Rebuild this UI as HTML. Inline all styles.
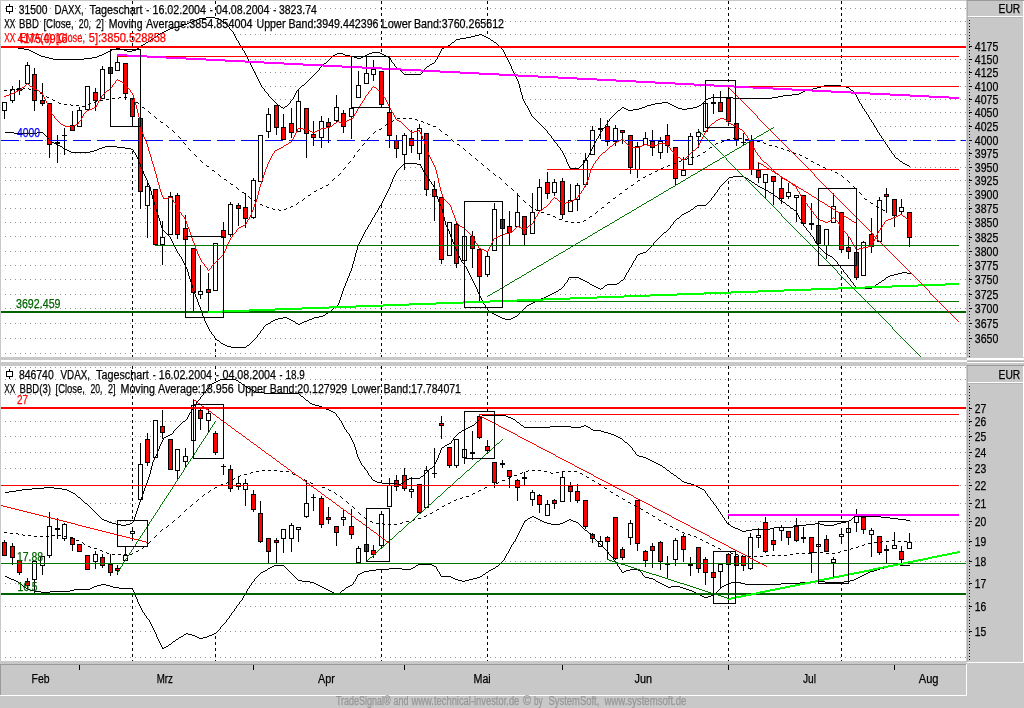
<!DOCTYPE html>
<html><head><meta charset="utf-8"><title>DAXX / VDAX Tageschart</title>
<style>html,body{margin:0;padding:0;background:#c8c8c8;overflow:hidden}svg{display:block}text{font-family:'Liberation Sans', Arial, sans-serif;font-size:12.5px;stroke-width:0.25px}</style>
</head><body>
<svg width="1024" height="708" viewBox="0 0 1024 708">
<rect width="1024" height="708" fill="#c8c8c8"/>
<g shape-rendering="crispEdges">
<rect x="0" y="0" width="1024" height="1" fill="#c8c8c8"/>
<rect x="1" y="1" width="966" height="356" fill="#fff"/>
<line x1="5" y1="8.5" x2="966" y2="8.5" stroke="#909090" stroke-width="1" stroke-dasharray="1 4"/>
<line x1="5" y1="21.5" x2="966" y2="21.5" stroke="#909090" stroke-width="1" stroke-dasharray="1 4"/>
<line x1="5" y1="34.5" x2="966" y2="34.5" stroke="#909090" stroke-width="1" stroke-dasharray="1 4"/>
<line x1="5" y1="46.5" x2="966" y2="46.5" stroke="#909090" stroke-width="1" stroke-dasharray="1 4"/>
<line x1="5" y1="59.5" x2="966" y2="59.5" stroke="#909090" stroke-width="1" stroke-dasharray="1 4"/>
<line x1="5" y1="72.5" x2="966" y2="72.5" stroke="#909090" stroke-width="1" stroke-dasharray="1 4"/>
<line x1="5" y1="86.5" x2="966" y2="86.5" stroke="#909090" stroke-width="1" stroke-dasharray="1 4"/>
<line x1="5" y1="99.5" x2="966" y2="99.5" stroke="#909090" stroke-width="1" stroke-dasharray="1 4"/>
<line x1="5" y1="112.5" x2="966" y2="112.5" stroke="#909090" stroke-width="1" stroke-dasharray="1 4"/>
<line x1="5" y1="126.5" x2="966" y2="126.5" stroke="#909090" stroke-width="1" stroke-dasharray="1 4"/>
<line x1="5" y1="140.5" x2="966" y2="140.5" stroke="#909090" stroke-width="1" stroke-dasharray="1 4"/>
<line x1="5" y1="153.5" x2="966" y2="153.5" stroke="#909090" stroke-width="1" stroke-dasharray="1 4"/>
<line x1="5" y1="167.5" x2="966" y2="167.5" stroke="#909090" stroke-width="1" stroke-dasharray="1 4"/>
<line x1="5" y1="180.5" x2="966" y2="180.5" stroke="#909090" stroke-width="1" stroke-dasharray="1 4"/>
<line x1="5" y1="194.5" x2="966" y2="194.5" stroke="#909090" stroke-width="1" stroke-dasharray="1 4"/>
<line x1="5" y1="208.5" x2="966" y2="208.5" stroke="#909090" stroke-width="1" stroke-dasharray="1 4"/>
<line x1="5" y1="222.5" x2="966" y2="222.5" stroke="#909090" stroke-width="1" stroke-dasharray="1 4"/>
<line x1="5" y1="236.5" x2="966" y2="236.5" stroke="#909090" stroke-width="1" stroke-dasharray="1 4"/>
<line x1="5" y1="251.5" x2="966" y2="251.5" stroke="#909090" stroke-width="1" stroke-dasharray="1 4"/>
<line x1="5" y1="265.5" x2="966" y2="265.5" stroke="#909090" stroke-width="1" stroke-dasharray="1 4"/>
<line x1="5" y1="279.5" x2="966" y2="279.5" stroke="#909090" stroke-width="1" stroke-dasharray="1 4"/>
<line x1="5" y1="294.5" x2="966" y2="294.5" stroke="#909090" stroke-width="1" stroke-dasharray="1 4"/>
<line x1="5" y1="308.5" x2="966" y2="308.5" stroke="#909090" stroke-width="1" stroke-dasharray="1 4"/>
<line x1="5" y1="323.5" x2="966" y2="323.5" stroke="#909090" stroke-width="1" stroke-dasharray="1 4"/>
<line x1="5" y1="338.5" x2="966" y2="338.5" stroke="#909090" stroke-width="1" stroke-dasharray="1 4"/>
<line x1="5" y1="353.5" x2="966" y2="353.5" stroke="#909090" stroke-width="1" stroke-dasharray="1 4"/>
<line x1="132.5" y1="1" x2="132.5" y2="357" stroke="#000" stroke-width="1" stroke-dasharray="3 3"/>
<line x1="215.5" y1="1" x2="215.5" y2="357" stroke="#000" stroke-width="1" stroke-dasharray="3 3"/>
<line x1="381.5" y1="1" x2="381.5" y2="357" stroke="#000" stroke-width="1" stroke-dasharray="3 3"/>
<line x1="487.5" y1="1" x2="487.5" y2="357" stroke="#000" stroke-width="1" stroke-dasharray="3 3"/>
<line x1="728.5" y1="1" x2="728.5" y2="357" stroke="#000" stroke-width="1" stroke-dasharray="3 3"/>
<line x1="841.5" y1="1" x2="841.5" y2="357" stroke="#000" stroke-width="1" stroke-dasharray="3 3"/>
<polygon points="1.5,47.5 14.0,47.5 27.0,49.5 42.0,56.0 55.0,59.0 80.0,59.0 95.0,57.0 105.0,53.0 112.0,49.0 118.0,48.0 128.0,51.0 135.0,50.0 140.0,46.0 150.0,40.0 160.0,33.0 170.0,28.0 180.0,26.0 190.0,22.0 200.0,18.5 210.0,17.5 218.0,18.5 226.0,24.0 232.0,31.0 237.4,40.0 243.0,50.0 250.0,63.0 256.0,75.0 262.0,87.0 270.0,97.0 277.0,104.0 283.0,108.5 288.0,104.0 293.0,98.0 297.0,90.0 300.0,87.0 306.0,82.0 311.0,77.0 316.0,72.0 322.0,65.5 328.0,60.0 333.0,55.0 337.0,53.0 341.0,53.0 346.0,55.0 352.0,56.0 358.0,58.5 362.0,57.0 367.0,54.0 373.0,52.5 378.0,52.5 384.0,55.0 389.0,57.0 392.0,62.0 396.0,67.0 400.0,70.5 404.0,74.0 420.0,74.0 425.0,68.0 430.0,64.5 434.0,62.5 438.0,56.0 442.0,48.0 450.0,44.0 456.0,39.0 468.5,37.0 480.0,34.5 487.0,37.0 496.0,43.8 503.0,50.0 507.0,58.0 511.5,67.0 518.0,82.0 523.0,100.0 528.0,108.0 532.0,116.0 538.0,122.0 544.0,128.5 550.0,135.5 556.0,143.5 562.0,151.0 566.0,160.0 570.0,168.5 578.0,168.0 583.0,163.5 587.0,157.0 591.0,150.0 597.0,138.0 601.0,131.0 606.0,124.0 610.0,118.0 616.0,112.0 622.0,107.0 629.0,110.0 636.0,109.5 640.0,108.5 648.0,105.0 656.0,103.5 666.0,102.5 671.0,104.5 676.0,107.5 683.0,109.0 690.0,108.0 698.0,106.5 702.0,103.0 705.0,100.0 708.0,98.0 713.0,97.0 725.0,97.5 740.0,98.5 750.0,98.5 755.0,98.0 768.0,98.0 775.0,97.0 785.0,95.0 798.0,94.0 805.0,90.5 815.0,88.5 825.0,85.0 838.0,85.0 848.0,87.5 855.0,93.0 858.0,100.0 865.0,111.0 872.0,122.5 878.0,132.0 884.0,141.5 890.0,150.0 895.5,157.5 903.0,163.0 909.0,166.5 910.0,273.0 903.0,272.0 895.5,274.0 888.0,276.0 881.0,281.0 875.0,285.0 871.0,288.6 857.0,288.6 855.0,286.0 851.0,281.0 846.0,274.0 841.0,268.0 836.0,261.0 832.0,257.0 826.0,254.0 820.0,248.5 816.0,243.0 813.0,237.0 808.0,231.0 804.0,226.0 800.0,219.0 796.0,211.5 790.0,207.0 785.0,203.5 779.0,199.0 773.0,194.5 768.0,191.0 765.0,189.0 760.0,187.0 754.0,183.0 748.0,179.0 743.0,176.5 736.0,176.5 729.0,177.5 725.0,181.5 720.0,186.0 716.0,192.0 710.0,200.0 705.0,205.5 697.0,205.5 690.0,210.0 681.0,215.0 675.0,220.0 668.0,229.0 662.0,234.0 656.0,240.0 650.0,247.5 645.0,252.5 640.0,253.5 637.0,255.0 630.0,267.0 623.0,279.0 616.0,284.0 607.0,284.5 600.0,289.5 578.0,277.5 569.0,277.5 566.0,282.0 562.0,287.5 558.0,290.0 553.0,293.0 542.0,298.0 533.0,302.5 526.0,306.5 522.0,310.0 517.0,315.0 512.0,318.0 509.0,319.5 506.0,319.0 500.0,317.0 494.0,314.0 488.0,310.0 484.0,304.0 480.0,297.0 475.0,285.0 470.0,275.0 466.0,267.0 462.0,262.0 459.0,257.0 452.0,240.0 447.0,227.0 445.0,223.0 441.0,206.0 438.0,200.0 434.0,187.0 430.0,181.0 424.0,172.0 420.0,164.5 412.0,163.5 404.0,163.0 400.0,167.0 396.0,171.5 392.0,180.5 388.0,190.0 383.5,200.8 376.0,212.0 366.0,229.5 358.5,244.5 351.0,269.5 343.5,289.5 338.5,304.5 331.0,310.8 322.0,316.5 315.0,317.0 305.0,321.0 298.0,324.5 292.0,320.0 285.0,317.5 275.0,319.0 265.0,325.0 256.0,337.5 250.0,343.0 245.0,347.0 232.0,347.0 225.0,345.5 220.0,342.0 215.0,338.0 210.0,331.0 205.0,322.0 200.0,308.0 195.0,295.0 190.0,280.0 187.0,270.0 184.0,263.0 180.0,256.0 175.0,248.0 170.0,237.5 162.0,229.0 158.0,216.0 153.0,200.0 149.0,185.0 147.0,181.0 143.0,172.0 138.0,160.0 135.0,153.0 132.0,149.0 128.0,148.5 120.0,147.0 113.0,146.5 106.0,146.5 100.0,148.0 95.0,150.0 88.0,152.0 72.0,152.0 67.0,150.0 62.0,147.0 57.0,144.5 52.0,142.5 47.0,137.0 42.0,132.5 30.0,133.0 17.0,133.5 9.0,132.5 5.0,132.2 1.5,132.2" fill="#fff" stroke="#fff" stroke-width="1"/>
<rect x="4" y="111" width="1" height="8" fill="#000"/>
<rect x="2" y="102" width="5" height="9" fill="#000"/>
<rect x="3" y="103" width="3" height="7" fill="#fff"/>
<rect x="12" y="86" width="1" height="3" fill="#000"/>
<rect x="12" y="101" width="1" height="2" fill="#000"/>
<rect x="10" y="89" width="5" height="12" fill="#000"/>
<rect x="11" y="90" width="3" height="10" fill="#fff"/>
<rect x="19" y="80" width="1" height="8" fill="#000"/>
<rect x="19" y="91" width="1" height="4" fill="#000"/>
<rect x="17" y="88" width="5" height="3" fill="#000"/>
<rect x="27" y="62" width="1" height="3" fill="#000"/>
<rect x="25" y="65" width="5" height="19" fill="#000"/>
<rect x="26" y="66" width="3" height="17" fill="#fff"/>
<rect x="34" y="68" width="1" height="6" fill="#000"/>
<rect x="34" y="101" width="1" height="10" fill="#000"/>
<rect x="32" y="74" width="5" height="27" fill="#000"/>
<rect x="33" y="75" width="3" height="25" fill="#ff0000"/>
<rect x="42" y="83" width="1" height="17" fill="#000"/>
<rect x="42" y="104" width="1" height="2" fill="#000"/>
<rect x="40" y="100" width="5" height="4" fill="#000"/>
<rect x="41" y="101" width="3" height="2" fill="#ff0000"/>
<rect x="49" y="145" width="1" height="13" fill="#000"/>
<rect x="47" y="103" width="5" height="42" fill="#000"/>
<rect x="48" y="104" width="3" height="40" fill="#ff0000"/>
<rect x="57" y="135" width="1" height="7" fill="#000"/>
<rect x="57" y="144" width="1" height="19" fill="#000"/>
<rect x="55" y="142" width="5" height="2" fill="#000"/>
<rect x="64" y="128" width="1" height="7" fill="#000"/>
<rect x="64" y="136" width="1" height="19" fill="#000"/>
<rect x="62" y="135" width="5" height="1" fill="#000"/>
<rect x="72" y="111" width="1" height="14" fill="#000"/>
<rect x="70" y="125" width="5" height="6" fill="#000"/>
<rect x="71" y="126" width="3" height="4" fill="#ff0000"/>
<rect x="79" y="107" width="1" height="3" fill="#000"/>
<rect x="77" y="110" width="5" height="17" fill="#000"/>
<rect x="78" y="111" width="3" height="15" fill="#fff"/>
<rect x="85" y="86" width="5" height="24" fill="#000"/>
<rect x="86" y="87" width="3" height="22" fill="#fff"/>
<rect x="95" y="88" width="1" height="4" fill="#000"/>
<rect x="95" y="101" width="1" height="10" fill="#000"/>
<rect x="93" y="92" width="5" height="9" fill="#000"/>
<rect x="94" y="93" width="3" height="7" fill="#ff0000"/>
<rect x="102" y="66" width="1" height="3" fill="#000"/>
<rect x="100" y="69" width="5" height="30" fill="#000"/>
<rect x="101" y="70" width="3" height="28" fill="#fff"/>
<rect x="108" y="67" width="5" height="7" fill="#000"/>
<rect x="109" y="68" width="3" height="5" fill="#ff0000"/>
<rect x="117" y="57" width="1" height="5" fill="#000"/>
<rect x="115" y="62" width="5" height="9" fill="#000"/>
<rect x="116" y="63" width="3" height="7" fill="#fff"/>
<rect x="125" y="94" width="1" height="6" fill="#000"/>
<rect x="123" y="63" width="5" height="31" fill="#000"/>
<rect x="124" y="64" width="3" height="29" fill="#ff0000"/>
<rect x="132" y="117" width="1" height="10" fill="#000"/>
<rect x="130" y="98" width="5" height="19" fill="#000"/>
<rect x="131" y="99" width="3" height="17" fill="#ff0000"/>
<rect x="140" y="192" width="1" height="17" fill="#000"/>
<rect x="138" y="118" width="5" height="74" fill="#000"/>
<rect x="139" y="119" width="3" height="72" fill="#ff0000"/>
<rect x="147" y="183" width="1" height="3" fill="#000"/>
<rect x="147" y="206" width="1" height="32" fill="#000"/>
<rect x="145" y="186" width="5" height="20" fill="#000"/>
<rect x="146" y="187" width="3" height="18" fill="#fff"/>
<rect x="153" y="189" width="5" height="56" fill="#000"/>
<rect x="154" y="190" width="3" height="54" fill="#ff0000"/>
<rect x="162" y="221" width="1" height="16" fill="#000"/>
<rect x="162" y="245" width="1" height="20" fill="#000"/>
<rect x="160" y="237" width="5" height="8" fill="#000"/>
<rect x="161" y="238" width="3" height="6" fill="#fff"/>
<rect x="170" y="192" width="1" height="4" fill="#000"/>
<rect x="168" y="196" width="5" height="39" fill="#000"/>
<rect x="169" y="197" width="3" height="37" fill="#fff"/>
<rect x="177" y="193" width="1" height="2" fill="#000"/>
<rect x="177" y="235" width="1" height="4" fill="#000"/>
<rect x="175" y="195" width="5" height="40" fill="#000"/>
<rect x="176" y="196" width="3" height="38" fill="#ff0000"/>
<rect x="185" y="215" width="1" height="13" fill="#000"/>
<rect x="183" y="228" width="5" height="12" fill="#000"/>
<rect x="184" y="229" width="3" height="10" fill="#ff0000"/>
<rect x="193" y="293" width="1" height="18" fill="#000"/>
<rect x="191" y="248" width="5" height="45" fill="#000"/>
<rect x="192" y="249" width="3" height="43" fill="#ff0000"/>
<rect x="200" y="265" width="1" height="26" fill="#000"/>
<rect x="200" y="295" width="1" height="4" fill="#000"/>
<rect x="198" y="291" width="5" height="4" fill="#000"/>
<rect x="199" y="292" width="3" height="2" fill="#fff"/>
<rect x="208" y="273" width="1" height="16" fill="#000"/>
<rect x="208" y="293" width="1" height="18" fill="#000"/>
<rect x="206" y="289" width="5" height="4" fill="#000"/>
<rect x="207" y="290" width="3" height="2" fill="#ff0000"/>
<rect x="213" y="243" width="5" height="48" fill="#000"/>
<rect x="214" y="244" width="3" height="46" fill="#fff"/>
<rect x="223" y="222" width="1" height="8" fill="#000"/>
<rect x="221" y="230" width="5" height="8" fill="#000"/>
<rect x="222" y="231" width="3" height="6" fill="#ff0000"/>
<rect x="230" y="202" width="1" height="2" fill="#000"/>
<rect x="230" y="235" width="1" height="2" fill="#000"/>
<rect x="228" y="204" width="5" height="31" fill="#000"/>
<rect x="229" y="205" width="3" height="29" fill="#fff"/>
<rect x="238" y="203" width="1" height="2" fill="#000"/>
<rect x="238" y="209" width="1" height="17" fill="#000"/>
<rect x="236" y="205" width="5" height="4" fill="#000"/>
<rect x="237" y="206" width="3" height="2" fill="#ff0000"/>
<rect x="245" y="193" width="1" height="14" fill="#000"/>
<rect x="245" y="219" width="1" height="9" fill="#000"/>
<rect x="243" y="207" width="5" height="12" fill="#000"/>
<rect x="244" y="208" width="3" height="10" fill="#ff0000"/>
<rect x="253" y="178" width="1" height="2" fill="#000"/>
<rect x="253" y="218" width="1" height="1" fill="#000"/>
<rect x="251" y="180" width="5" height="38" fill="#000"/>
<rect x="252" y="181" width="3" height="36" fill="#fff"/>
<rect x="258" y="135" width="5" height="47" fill="#000"/>
<rect x="259" y="136" width="3" height="45" fill="#fff"/>
<rect x="268" y="108" width="1" height="6" fill="#000"/>
<rect x="268" y="132" width="1" height="6" fill="#000"/>
<rect x="266" y="114" width="5" height="18" fill="#000"/>
<rect x="267" y="115" width="3" height="16" fill="#fff"/>
<rect x="276" y="128" width="1" height="7" fill="#000"/>
<rect x="274" y="105" width="5" height="23" fill="#000"/>
<rect x="275" y="106" width="3" height="21" fill="#ff0000"/>
<rect x="283" y="114" width="1" height="13" fill="#000"/>
<rect x="281" y="127" width="5" height="13" fill="#000"/>
<rect x="282" y="128" width="3" height="11" fill="#ff0000"/>
<rect x="291" y="108" width="1" height="15" fill="#000"/>
<rect x="291" y="133" width="1" height="5" fill="#000"/>
<rect x="289" y="123" width="5" height="10" fill="#000"/>
<rect x="290" y="124" width="3" height="8" fill="#ff0000"/>
<rect x="298" y="89" width="1" height="12" fill="#000"/>
<rect x="296" y="101" width="5" height="31" fill="#000"/>
<rect x="297" y="102" width="3" height="29" fill="#fff"/>
<rect x="306" y="134" width="1" height="24" fill="#000"/>
<rect x="304" y="108" width="5" height="26" fill="#000"/>
<rect x="305" y="109" width="3" height="24" fill="#ff0000"/>
<rect x="313" y="121" width="1" height="13" fill="#000"/>
<rect x="313" y="138" width="1" height="8" fill="#000"/>
<rect x="311" y="134" width="5" height="4" fill="#000"/>
<rect x="312" y="135" width="3" height="2" fill="#ff0000"/>
<rect x="321" y="116" width="1" height="5" fill="#000"/>
<rect x="321" y="138" width="1" height="10" fill="#000"/>
<rect x="319" y="121" width="5" height="17" fill="#000"/>
<rect x="320" y="122" width="3" height="15" fill="#fff"/>
<rect x="328" y="118" width="1" height="4" fill="#000"/>
<rect x="328" y="127" width="1" height="16" fill="#000"/>
<rect x="326" y="122" width="5" height="5" fill="#000"/>
<rect x="327" y="123" width="3" height="3" fill="#ff0000"/>
<rect x="336" y="95" width="1" height="12" fill="#000"/>
<rect x="336" y="121" width="1" height="1" fill="#000"/>
<rect x="334" y="107" width="5" height="14" fill="#000"/>
<rect x="335" y="108" width="3" height="12" fill="#fff"/>
<rect x="343" y="110" width="1" height="3" fill="#000"/>
<rect x="343" y="127" width="1" height="6" fill="#000"/>
<rect x="341" y="113" width="5" height="14" fill="#000"/>
<rect x="342" y="114" width="3" height="12" fill="#ff0000"/>
<rect x="351" y="117" width="1" height="22" fill="#000"/>
<rect x="349" y="108" width="5" height="9" fill="#000"/>
<rect x="350" y="109" width="3" height="7" fill="#fff"/>
<rect x="358" y="71" width="1" height="14" fill="#000"/>
<rect x="356" y="85" width="5" height="13" fill="#000"/>
<rect x="357" y="86" width="3" height="11" fill="#fff"/>
<rect x="366" y="57" width="1" height="16" fill="#000"/>
<rect x="364" y="73" width="5" height="11" fill="#000"/>
<rect x="365" y="74" width="3" height="9" fill="#fff"/>
<rect x="373" y="60" width="1" height="9" fill="#000"/>
<rect x="373" y="75" width="1" height="6" fill="#000"/>
<rect x="371" y="69" width="5" height="6" fill="#000"/>
<rect x="372" y="70" width="3" height="4" fill="#fff"/>
<rect x="381" y="105" width="1" height="3" fill="#000"/>
<rect x="379" y="71" width="5" height="34" fill="#000"/>
<rect x="380" y="72" width="3" height="32" fill="#ff0000"/>
<rect x="389" y="108" width="1" height="4" fill="#000"/>
<rect x="389" y="136" width="1" height="12" fill="#000"/>
<rect x="387" y="112" width="5" height="24" fill="#000"/>
<rect x="388" y="113" width="3" height="22" fill="#ff0000"/>
<rect x="396" y="135" width="1" height="5" fill="#000"/>
<rect x="396" y="149" width="1" height="9" fill="#000"/>
<rect x="394" y="140" width="5" height="9" fill="#000"/>
<rect x="395" y="141" width="3" height="7" fill="#ff0000"/>
<rect x="404" y="133" width="1" height="2" fill="#000"/>
<rect x="404" y="155" width="1" height="15" fill="#000"/>
<rect x="402" y="135" width="5" height="20" fill="#000"/>
<rect x="403" y="136" width="3" height="18" fill="#fff"/>
<rect x="411" y="130" width="1" height="8" fill="#000"/>
<rect x="411" y="146" width="1" height="7" fill="#000"/>
<rect x="409" y="138" width="5" height="8" fill="#000"/>
<rect x="410" y="139" width="3" height="6" fill="#ff0000"/>
<rect x="419" y="124" width="1" height="4" fill="#000"/>
<rect x="419" y="154" width="1" height="6" fill="#000"/>
<rect x="417" y="128" width="5" height="26" fill="#000"/>
<rect x="418" y="129" width="3" height="24" fill="#fff"/>
<rect x="426" y="190" width="1" height="6" fill="#000"/>
<rect x="424" y="133" width="5" height="57" fill="#000"/>
<rect x="425" y="134" width="3" height="55" fill="#ff0000"/>
<rect x="434" y="181" width="1" height="8" fill="#000"/>
<rect x="434" y="197" width="1" height="24" fill="#000"/>
<rect x="432" y="189" width="5" height="8" fill="#000"/>
<rect x="433" y="190" width="3" height="6" fill="#ff0000"/>
<rect x="441" y="260" width="1" height="4" fill="#000"/>
<rect x="439" y="197" width="5" height="63" fill="#000"/>
<rect x="440" y="198" width="3" height="61" fill="#ff0000"/>
<rect x="447" y="222" width="5" height="34" fill="#000"/>
<rect x="448" y="223" width="3" height="32" fill="#fff"/>
<rect x="456" y="222" width="1" height="2" fill="#000"/>
<rect x="456" y="264" width="1" height="4" fill="#000"/>
<rect x="454" y="224" width="5" height="40" fill="#000"/>
<rect x="455" y="225" width="3" height="38" fill="#ff0000"/>
<rect x="462" y="236" width="5" height="25" fill="#000"/>
<rect x="463" y="237" width="3" height="23" fill="#fff"/>
<rect x="472" y="231" width="1" height="5" fill="#000"/>
<rect x="472" y="249" width="1" height="19" fill="#000"/>
<rect x="470" y="236" width="5" height="13" fill="#000"/>
<rect x="471" y="237" width="3" height="11" fill="#ff0000"/>
<rect x="479" y="277" width="1" height="24" fill="#000"/>
<rect x="477" y="249" width="5" height="28" fill="#000"/>
<rect x="478" y="250" width="3" height="26" fill="#ff0000"/>
<rect x="487" y="252" width="1" height="4" fill="#000"/>
<rect x="487" y="275" width="1" height="2" fill="#000"/>
<rect x="485" y="256" width="5" height="19" fill="#000"/>
<rect x="486" y="257" width="3" height="17" fill="#fff"/>
<rect x="494" y="203" width="1" height="6" fill="#000"/>
<rect x="492" y="209" width="5" height="42" fill="#000"/>
<rect x="493" y="210" width="3" height="40" fill="#fff"/>
<rect x="500" y="219" width="5" height="10" fill="#000"/>
<rect x="501" y="220" width="3" height="8" fill="#ff0000"/>
<rect x="509" y="211" width="1" height="15" fill="#000"/>
<rect x="509" y="233" width="1" height="13" fill="#000"/>
<rect x="507" y="226" width="5" height="7" fill="#000"/>
<rect x="508" y="227" width="3" height="5" fill="#ff0000"/>
<rect x="517" y="193" width="1" height="19" fill="#000"/>
<rect x="515" y="212" width="5" height="15" fill="#000"/>
<rect x="516" y="213" width="3" height="13" fill="#fff"/>
<rect x="524" y="235" width="1" height="11" fill="#000"/>
<rect x="522" y="216" width="5" height="19" fill="#000"/>
<rect x="523" y="217" width="3" height="17" fill="#ff0000"/>
<rect x="532" y="193" width="1" height="19" fill="#000"/>
<rect x="530" y="212" width="5" height="22" fill="#000"/>
<rect x="531" y="213" width="3" height="20" fill="#fff"/>
<rect x="539" y="179" width="1" height="8" fill="#000"/>
<rect x="537" y="187" width="5" height="24" fill="#000"/>
<rect x="538" y="188" width="3" height="22" fill="#fff"/>
<rect x="547" y="172" width="1" height="10" fill="#000"/>
<rect x="547" y="194" width="1" height="5" fill="#000"/>
<rect x="545" y="182" width="5" height="12" fill="#000"/>
<rect x="546" y="183" width="3" height="10" fill="#ff0000"/>
<rect x="554" y="179" width="1" height="3" fill="#000"/>
<rect x="554" y="193" width="1" height="3" fill="#000"/>
<rect x="552" y="182" width="5" height="11" fill="#000"/>
<rect x="553" y="183" width="3" height="9" fill="#fff"/>
<rect x="562" y="178" width="1" height="3" fill="#000"/>
<rect x="562" y="215" width="1" height="4" fill="#000"/>
<rect x="560" y="181" width="5" height="34" fill="#000"/>
<rect x="561" y="182" width="3" height="32" fill="#ff0000"/>
<rect x="570" y="184" width="1" height="16" fill="#000"/>
<rect x="568" y="200" width="5" height="12" fill="#000"/>
<rect x="569" y="201" width="3" height="10" fill="#fff"/>
<rect x="577" y="183" width="1" height="2" fill="#000"/>
<rect x="577" y="200" width="1" height="11" fill="#000"/>
<rect x="575" y="185" width="5" height="15" fill="#000"/>
<rect x="576" y="186" width="3" height="13" fill="#fff"/>
<rect x="585" y="153" width="1" height="7" fill="#000"/>
<rect x="585" y="185" width="1" height="2" fill="#000"/>
<rect x="583" y="160" width="5" height="25" fill="#000"/>
<rect x="584" y="161" width="3" height="23" fill="#fff"/>
<rect x="592" y="126" width="1" height="4" fill="#000"/>
<rect x="590" y="130" width="5" height="25" fill="#000"/>
<rect x="591" y="131" width="3" height="23" fill="#fff"/>
<rect x="600" y="118" width="1" height="10" fill="#000"/>
<rect x="600" y="130" width="1" height="9" fill="#000"/>
<rect x="598" y="128" width="5" height="2" fill="#000"/>
<rect x="607" y="120" width="1" height="6" fill="#000"/>
<rect x="607" y="142" width="1" height="4" fill="#000"/>
<rect x="605" y="126" width="5" height="16" fill="#000"/>
<rect x="606" y="127" width="3" height="14" fill="#ff0000"/>
<rect x="615" y="125" width="1" height="3" fill="#000"/>
<rect x="615" y="142" width="1" height="4" fill="#000"/>
<rect x="613" y="128" width="5" height="14" fill="#000"/>
<rect x="614" y="129" width="3" height="12" fill="#fff"/>
<rect x="622" y="133" width="1" height="11" fill="#000"/>
<rect x="620" y="130" width="5" height="3" fill="#000"/>
<rect x="621" y="131" width="3" height="1" fill="#ff0000"/>
<rect x="630" y="168" width="1" height="6" fill="#000"/>
<rect x="628" y="135" width="5" height="33" fill="#000"/>
<rect x="629" y="136" width="3" height="31" fill="#ff0000"/>
<rect x="637" y="142" width="1" height="4" fill="#000"/>
<rect x="637" y="170" width="1" height="8" fill="#000"/>
<rect x="635" y="146" width="5" height="24" fill="#000"/>
<rect x="636" y="147" width="3" height="22" fill="#fff"/>
<rect x="645" y="132" width="1" height="6" fill="#000"/>
<rect x="643" y="138" width="5" height="7" fill="#000"/>
<rect x="644" y="139" width="3" height="5" fill="#fff"/>
<rect x="652" y="130" width="1" height="11" fill="#000"/>
<rect x="652" y="148" width="1" height="8" fill="#000"/>
<rect x="650" y="141" width="5" height="7" fill="#000"/>
<rect x="651" y="142" width="3" height="5" fill="#ff0000"/>
<rect x="660" y="137" width="1" height="4" fill="#000"/>
<rect x="660" y="153" width="1" height="6" fill="#000"/>
<rect x="658" y="141" width="5" height="12" fill="#000"/>
<rect x="659" y="142" width="3" height="10" fill="#fff"/>
<rect x="667" y="124" width="1" height="11" fill="#000"/>
<rect x="667" y="146" width="1" height="7" fill="#000"/>
<rect x="665" y="135" width="5" height="11" fill="#000"/>
<rect x="666" y="136" width="3" height="9" fill="#ff0000"/>
<rect x="675" y="179" width="1" height="7" fill="#000"/>
<rect x="673" y="147" width="5" height="32" fill="#000"/>
<rect x="674" y="148" width="3" height="30" fill="#ff0000"/>
<rect x="683" y="157" width="1" height="13" fill="#000"/>
<rect x="681" y="170" width="5" height="6" fill="#000"/>
<rect x="682" y="171" width="3" height="4" fill="#fff"/>
<rect x="690" y="133" width="1" height="3" fill="#000"/>
<rect x="688" y="136" width="5" height="29" fill="#000"/>
<rect x="689" y="137" width="3" height="27" fill="#fff"/>
<rect x="698" y="129" width="1" height="3" fill="#000"/>
<rect x="698" y="137" width="1" height="11" fill="#000"/>
<rect x="696" y="132" width="5" height="5" fill="#000"/>
<rect x="697" y="133" width="3" height="3" fill="#fff"/>
<rect x="703" y="103" width="5" height="29" fill="#000"/>
<rect x="704" y="104" width="3" height="27" fill="#fff"/>
<rect x="713" y="94" width="1" height="8" fill="#000"/>
<rect x="713" y="104" width="1" height="10" fill="#000"/>
<rect x="711" y="102" width="5" height="2" fill="#000"/>
<rect x="720" y="91" width="1" height="11" fill="#000"/>
<rect x="718" y="102" width="5" height="10" fill="#000"/>
<rect x="719" y="103" width="3" height="8" fill="#ff0000"/>
<rect x="728" y="87" width="1" height="11" fill="#000"/>
<rect x="728" y="122" width="1" height="4" fill="#000"/>
<rect x="726" y="98" width="5" height="24" fill="#000"/>
<rect x="727" y="99" width="3" height="22" fill="#ff0000"/>
<rect x="736" y="140" width="1" height="6" fill="#000"/>
<rect x="734" y="123" width="5" height="17" fill="#000"/>
<rect x="735" y="124" width="3" height="15" fill="#ff0000"/>
<rect x="743" y="133" width="1" height="9" fill="#000"/>
<rect x="743" y="143" width="1" height="3" fill="#000"/>
<rect x="741" y="142" width="5" height="1" fill="#000"/>
<rect x="751" y="135" width="1" height="5" fill="#000"/>
<rect x="751" y="170" width="1" height="5" fill="#000"/>
<rect x="749" y="140" width="5" height="30" fill="#000"/>
<rect x="750" y="141" width="3" height="28" fill="#ff0000"/>
<rect x="758" y="162" width="1" height="8" fill="#000"/>
<rect x="758" y="178" width="1" height="5" fill="#000"/>
<rect x="756" y="170" width="5" height="8" fill="#000"/>
<rect x="757" y="171" width="3" height="6" fill="#ff0000"/>
<rect x="765" y="183" width="1" height="15" fill="#000"/>
<rect x="763" y="174" width="5" height="9" fill="#000"/>
<rect x="764" y="175" width="3" height="7" fill="#fff"/>
<rect x="773" y="182" width="1" height="23" fill="#000"/>
<rect x="771" y="176" width="5" height="6" fill="#000"/>
<rect x="772" y="177" width="3" height="4" fill="#ff0000"/>
<rect x="781" y="178" width="1" height="10" fill="#000"/>
<rect x="781" y="199" width="1" height="5" fill="#000"/>
<rect x="779" y="188" width="5" height="11" fill="#000"/>
<rect x="780" y="189" width="3" height="9" fill="#ff0000"/>
<rect x="788" y="183" width="1" height="9" fill="#000"/>
<rect x="788" y="197" width="1" height="2" fill="#000"/>
<rect x="786" y="192" width="5" height="5" fill="#000"/>
<rect x="787" y="193" width="3" height="3" fill="#fff"/>
<rect x="796" y="198" width="1" height="24" fill="#000"/>
<rect x="794" y="195" width="5" height="3" fill="#000"/>
<rect x="795" y="196" width="3" height="1" fill="#fff"/>
<rect x="801" y="195" width="5" height="29" fill="#000"/>
<rect x="802" y="196" width="3" height="27" fill="#ff0000"/>
<rect x="811" y="203" width="1" height="20" fill="#000"/>
<rect x="811" y="225" width="1" height="5" fill="#000"/>
<rect x="809" y="223" width="5" height="2" fill="#000"/>
<rect x="816" y="225" width="5" height="19" fill="#000"/>
<rect x="817" y="226" width="3" height="17" fill="#ff0000"/>
<rect x="826" y="246" width="1" height="13" fill="#000"/>
<rect x="824" y="229" width="5" height="17" fill="#000"/>
<rect x="825" y="230" width="3" height="15" fill="#fff"/>
<rect x="833" y="193" width="1" height="13" fill="#000"/>
<rect x="831" y="206" width="5" height="17" fill="#000"/>
<rect x="832" y="207" width="3" height="15" fill="#fff"/>
<rect x="841" y="250" width="1" height="3" fill="#000"/>
<rect x="839" y="212" width="5" height="38" fill="#000"/>
<rect x="840" y="213" width="3" height="36" fill="#ff0000"/>
<rect x="848" y="237" width="1" height="10" fill="#000"/>
<rect x="848" y="252" width="1" height="7" fill="#000"/>
<rect x="846" y="247" width="5" height="5" fill="#000"/>
<rect x="847" y="248" width="3" height="3" fill="#ff0000"/>
<rect x="856" y="278" width="1" height="2" fill="#000"/>
<rect x="854" y="252" width="5" height="26" fill="#000"/>
<rect x="855" y="253" width="3" height="24" fill="#ff0000"/>
<rect x="863" y="241" width="1" height="1" fill="#000"/>
<rect x="861" y="242" width="5" height="34" fill="#000"/>
<rect x="862" y="243" width="3" height="32" fill="#fff"/>
<rect x="871" y="218" width="1" height="16" fill="#000"/>
<rect x="871" y="247" width="1" height="6" fill="#000"/>
<rect x="869" y="234" width="5" height="13" fill="#000"/>
<rect x="870" y="235" width="3" height="11" fill="#ff0000"/>
<rect x="879" y="197" width="1" height="3" fill="#000"/>
<rect x="877" y="200" width="5" height="42" fill="#000"/>
<rect x="878" y="201" width="3" height="40" fill="#fff"/>
<rect x="886" y="188" width="1" height="6" fill="#000"/>
<rect x="886" y="197" width="1" height="16" fill="#000"/>
<rect x="884" y="194" width="5" height="3" fill="#000"/>
<rect x="885" y="195" width="3" height="1" fill="#ff0000"/>
<rect x="894" y="216" width="1" height="11" fill="#000"/>
<rect x="892" y="199" width="5" height="17" fill="#000"/>
<rect x="893" y="200" width="3" height="15" fill="#ff0000"/>
<rect x="901" y="199" width="1" height="8" fill="#000"/>
<rect x="901" y="212" width="1" height="3" fill="#000"/>
<rect x="899" y="207" width="5" height="5" fill="#000"/>
<rect x="900" y="208" width="3" height="3" fill="#fff"/>
<rect x="909" y="238" width="1" height="9" fill="#000"/>
<rect x="907" y="212" width="5" height="26" fill="#000"/>
<rect x="908" y="213" width="3" height="24" fill="#ff0000"/>
<path d="M53 59.5h31M35 53.5h2M104 53.5h2M337 53.5h6M369 53.5h3M380 53.5h2M799 93.5h2M285 106.5h2M645 106.5h2M674 106.5h2M697 106.5h2M821 86.5h3M841 86.5h5M808 89.5h5M662 102.5h6M491 40.5h2M397 68.5h2M29 50.5h2M110 50.5h2M124 50.5h3M132 50.5h4M154 37.5h2M466 37.5h5M486 37.5h2M206 17.5h9M143 44.5h2M792 94.5h7M184 24.5h3M711 97.5h22M772 97.5h6M655 103.5h7M668 103.5h2M37 54.5h2M102 54.5h2M335 54.5h2M343 54.5h2M367 54.5h2M382 54.5h2M148 41.5h2M158 34.5h2M479 34.5h3M783 95.5h9M41 56.5h4M97 56.5h2M350 56.5h4M363 56.5h2M386 56.5h2M708 98.5h3M733 98.5h39M907 165.5h2M471 36.5h4M484 36.5h2M31 51.5h2M108 51.5h2M127 51.5h5M404 74.5h17M49 58.5h4M84 58.5h8M357 58.5h4M778 96.5h5M446 46.5h2M45 57.5h4M92 57.5h5M354 57.5h3M361 57.5h2M388 57.5h2M302 85.5h2M824 85.5h17M173 27.5h5M33 52.5h2M106 52.5h2M372 52.5h8M197 19.5h2M219 19.5h2M427 66.5h2M903 163.5h2M706 99.5h2M281 107.5h2M622 107.5h2M642 107.5h3M676 107.5h2M693 107.5h4M817 87.5h4M846 87.5h3M624 108.5h2M639 108.5h3M678 108.5h4M687 108.5h6M278 105.5h2M647 105.5h4M672 105.5h2M699 105.5h2M475 35.5h4M482 35.5h2M189 22.5h3M223 22.5h2M651 104.5h4M670 104.5h2M199 18.5h7M215 18.5h4M805 90.5h3M851 90.5h2M896 158.5h2M39 55.5h2M99 55.5h3M333 55.5h2M345 55.5h5M365 55.5h2M384 55.5h2M430 64.5h2M192 21.5h2M18 48.5h6M116 48.5h4M137 48.5h2M442 48.5h2M160 33.5h2M166 30.5h2M460 38.5h6M488 38.5h2M570 168.5h9M905 164.5h2M626 109.5h2M633 109.5h6M682 109.5h5M141 45.5h2M448 45.5h2M170 28.5h3M803 91.5h2M14 47.5h4M444 47.5h2M168 29.5h2M187 23.5h2M801 92.5h2M324 63.5h2M432 63.5h2M618 110.5h2M628 110.5h5M146 42.5h2M452 42.5h2M494 42.5h2M151 39.5h2M456 39.5h4M813 88.5h4M24 49.5h5M112 49.5h4M120 49.5h4M178 26.5h4M194 20.5h3M164 31.5h2M182 25.5h2M900 161.5h2M162 32.5h2M555.5 142v1M267.5 93v1M298.5 89v1M885.5 142v2M521.5 92v3M249.5 61v2M493.5 41v1M514.5 73v2M522.5 95v4M593.5 145v2M543.5 127v1M317.5 71v1M423.5 70v1M294.5 95v2M568.5 164v2M508.5 60v2M301.5 86v1M580.5 166v1M511.5 66v3M529.5 110v2M532.5 116v1M305.5 83v1M859.5 101v2M255.5 73v2M888.5 147v1M525.5 103v2M554.5 140v2M252.5 67v2M565.5 157v2M518.5 81v3M889.5 148v2M892.5 153v1M320.5 67v1M248.5 59v2M588.5 155v2M604.5 127v1M451.5 43v1M231.5 30v1M899.5 160v1M153.5 38v1M902.5 162v1M499.5 46v1M507.5 58v2M862.5 106v2M891.5 151v2M528.5 108v2M557.5 144v2M269.5 96v1M312.5 76v1M863.5 108v1M866.5 112v2M615.5 113v1M270.5 97v1M296.5 91v2M607.5 122v2M229.5 27v2M539.5 123v1M245.5 53v2M331.5 57v1M403.5 73v1M520.5 88v4M277.5 104v1M510.5 64v2M230.5 29v1M531.5 114v2M241.5 46v2M157.5 35v1M594.5 143v2M858.5 99v2M887.5 145v2M506.5 56v2M524.5 101v2M319.5 68v2M538.5 122v1M855.5 93v2M251.5 65v2M582.5 164v1M898.5 159v1M284.5 107v1M307.5 81v1M705.5 100v1M236.5 38v2M244.5 51v2M545.5 129v1M288.5 104v1M509.5 62v2M328.5 60v1M237.5 40v1M300.5 87v1M546.5 130v1M530.5 112v2M567.5 162v2M602.5 129v2M861.5 104v2M527.5 106v2M857.5 97v2M441.5 49v2M295.5 93v2M523.5 99v2M869.5 117v2M890.5 150v1M556.5 143v1M564.5 155v2M422.5 71v2M247.5 57v2M517.5 79v2M276.5 103v1M854.5 92v1M250.5 63v2M239.5 43v2M291.5 100v1M440.5 51v2M314.5 74v1M579.5 167v1M240.5 45v1M243.5 50v1M261.5 85v2M233.5 32v2M610.5 118v1M702.5 103v1M391.5 60v2M589.5 153v2M566.5 159v3M864.5 109v2M322.5 65v1M392.5 62v1M436.5 59v1M258.5 79v2M490.5 39v1M425.5 68v1M853.5 91v1M519.5 84v4M865.5 111v1M894.5 155v2M326.5 62v1M560.5 148v2M429.5 65v1M563.5 153v2M585.5 160v1M246.5 55v2M516.5 77v2M399.5 69v1M235.5 36v2M601.5 131v1M156.5 36v1M548.5 133v1M260.5 83v2M311.5 77v1M232.5 31v1M390.5 58v2M533.5 117v1M505.5 54v2M860.5 103v1M868.5 115v2M597.5 138v1M871.5 120v2M526.5 105v1M879.5 133v2M534.5 118v1M558.5 146v1M893.5 154v1M559.5 147v1M540.5 124v1M242.5 48v2M136.5 49v1M541.5 125v1M455.5 40v1M617.5 111v1M140.5 46v1M547.5 131v2M849.5 88v1M435.5 60v2M621.5 108v1M264.5 89v2M500.5 47v1M874.5 125v2M257.5 77v2M394.5 64v2M592.5 147v2M501.5 48v1M856.5 95v2M584.5 161v2M504.5 52v2M867.5 114v1M290.5 101v2M875.5 127v1M271.5 98v1M293.5 97v2M878.5 132v1M562.5 151v2M283.5 108v1M609.5 119v2M515.5 75v2M306.5 82v1M704.5 101v1M330.5 58v1M238.5 41v2M234.5 34v2M596.5 139v2M870.5 119v1M424.5 69v1M256.5 75v2M309.5 79v1M600.5 132v2M551.5 136v2M612.5 116v1M439.5 53v2M895.5 157v1M561.5 150v1M581.5 165v1M259.5 81v2M321.5 66v1M262.5 87v1M569.5 166v2M877.5 130v2M503.5 50v2M263.5 88v1M150.5 40v1M316.5 72v1M873.5 123v2M881.5 136v2M393.5 63v1M587.5 157v1M536.5 120v1M329.5 59v1M603.5 128v1M450.5 44v1M313.5 75v1M591.5 149v2M454.5 41v1M304.5 84v1M400.5 70v1M496.5 43v1M297.5 90v1M599.5 134v2M549.5 134v1M438.5 55v2M332.5 56v1M876.5 128v2M502.5 49v1M550.5 135v1M289.5 103v1M535.5 119v1M595.5 141v2M273.5 100v1M513.5 71v2M542.5 126v1M909.5 166v1M583.5 163v1M850.5 89v1M265.5 91v1M308.5 80v1M872.5 122v1M880.5 135v1M395.5 66v1M266.5 92v1M883.5 139v2M611.5 117v1M590.5 151v2M884.5 141v1M272.5 99v1M396.5 67v1M606.5 124v1M323.5 64v1M222.5 21v1M225.5 23v1M327.5 61v1M226.5 24v1M434.5 62v1M426.5 67v1M586.5 158v2M614.5 114v1M421.5 73v1M292.5 99v1M552.5 138v1M315.5 73v1M254.5 71v2M553.5 139v1M287.5 105v1M598.5 136v2M299.5 88v1M437.5 57v2M512.5 69v2M701.5 104v1M318.5 70v1M402.5 72v1M498.5 45v1M882.5 138v1M145.5 43v1M268.5 94v2M221.5 20v1M280.5 106v1M253.5 69v2M886.5 144v1M537.5 121v1M310.5 78v1M605.5 125v2M497.5 44v1M544.5 128v1M616.5 112v1M139.5 47v1M274.5 101v1M401.5 71v1M620.5 109v1M275.5 102v1M227.5 25v1M613.5 115v1M228.5 26v1M608.5 121v1M703.5 102v1" fill="none" stroke="#000" stroke-width="1"/>
<path d="M890 275.5h4M5 132.5h9M37 132.5h6M537 300.5h2M417 164.5h4M590 284.5h2M607 284.5h10M876 284.5h2M771 193.5h2M52 142.5h2M319 316.5h4M498 316.5h2M515 316.5h2M697 205.5h9M787 205.5h2M541 298.5h3M278 318.5h5M287 318.5h2M312 318.5h2M502 318.5h3M511 318.5h2M231 347.5h15M902 272.5h5M898 273.5h4M907 273.5h4M404 163.5h13M273 320.5h2M291 320.5h2M307 320.5h2M794 210.5h2M764 189.5h2M752 182.5h2M638 254.5h2M826 254.5h2M688 211.5h2M326 313.5h2M492 313.5h2M275 319.5h3M289 319.5h2M309 319.5h3M505 319.5h6M617 283.5h2M14 133.5h23M65 149.5h2M97 149.5h2M131 149.5h2M760 187.5h2M758 186.5h2M888 276.5h2M766 190.5h2M583 280.5h2M621 280.5h2M882 280.5h2M63 148.5h2M99 148.5h3M125 148.5h6M664 232.5h2M783 202.5h2M775 196.5h2M527 305.5h2M548 295.5h2M598 288.5h2M601 288.5h2M857 288.5h15M643 252.5h3M71 152.5h19M749 180.5h2M686 212.5h2M640 253.5h3M266 324.5h2M298 324.5h2M746 178.5h2M695 206.5h2M271 321.5h2M293 321.5h2M304 321.5h3M539 299.5h2M533 302.5h2M587 282.5h2M879 282.5h2M677 218.5h2M579 278.5h2M102 147.5h3M117 147.5h8M894 274.5h4M569 277.5h10M886 277.5h2M581 279.5h2M529 304.5h2M544 297.5h2M691 209.5h2M60 146.5h2M105 146.5h12M729 177.5h4M744 177.5h2M780 200.5h2M585 281.5h2M594 286.5h2M283 317.5h4M314 317.5h5M500 317.5h2M513 317.5h2M67 150.5h2M94 150.5h3M494 314.5h2M323 315.5h2M496 315.5h2M592 285.5h2M605 285.5h2M268 323.5h2M296 323.5h2M300 323.5h2M791 208.5h2M684 213.5h2M733 176.5h11M769 192.5h2M762 188.5h2M596 287.5h2M872 287.5h2M221 343.5h2M531 303.5h2M302 322.5h2M223 344.5h2M556 291.5h2M69 151.5h2M90 151.5h4M227 346.5h4M828 255.5h2M329 311.5h2M489 311.5h2M830 256.5h2M54 143.5h2M755 184.5h2M552 293.5h2M559 289.5h2M550 294.5h2M58 145.5h2M334 307.5h2M682 214.5h2M554 292.5h2M535 301.5h2M546 296.5h2M225 345.5h2M247 345.5h2M56 144.5h2M217 340.5h2M773.5 194v1M349.5 273v3M446.5 225v2M175.5 247v2M211.5 332v2M183.5 261v2M646.5 251v1M386.5 193v2M449.5 231v3M803.5 224v2M196.5 297v2M844.5 272v1M353.5 261v3M204.5 318v3M139.5 162v2M176.5 249v2M442.5 209v4M670.5 226v2M431.5 182v2M179.5 254v2M377.5 210v2M519.5 313v1M160.5 221v4M150.5 187v4M168.5 235v1M140.5 164v3M366.5 229v1M452.5 239v3M189.5 276v3M810.5 233v2M153.5 199v3M818.5 245v2M453.5 242v2M200.5 307v3M154.5 202v3M385.5 195v2M438.5 199v3M474.5 283v2M720.5 186v1M337.5 305v1M814.5 239v2M352.5 264v4M824.5 252v1M658.5 238v1M147.5 180v3M626.5 273v2M157.5 212v3M460.5 258v2M825.5 253v1M357.5 246v4M206.5 323v2M354.5 257v4M393.5 177v2M178.5 253v1M214.5 336v2M49.5 139v1M381.5 203v2M260.5 331v2M653.5 243v2M207.5 325v2M481.5 298v2M673.5 222v2M445.5 221v4M799.5 217v2M182.5 259v2M485.5 305v2M255.5 338v1M843.5 270v2M361.5 238v2M813.5 237v2M252.5 341v1M853.5 283v2M149.5 185v2M817.5 244v1M369.5 224v1M48.5 138v1M470.5 275v2M473.5 281v2M397.5 170v1M263.5 327v2M348.5 276v2M192.5 285v3M146.5 178v2M708.5 202v1M143.5 171v3M156.5 209v3M174.5 245v2M373.5 217v1M459.5 256v2M467.5 269v2M680.5 216v1M448.5 229v2M177.5 251v2M754.5 183v1M365.5 230v2M167.5 234v1M441.5 206v3M629.5 268v2M434.5 187v2M491.5 312v1M650.5 247v1M802.5 222v2M171.5 239v2M716.5 192v1M719.5 187v2M812.5 236v1M526.5 306v1M633.5 261v2M884.5 279v1M625.5 275v2M648.5 249v1M711.5 198v2M469.5 273v2M727.5 179v1M250.5 343v1M669.5 228v1M462.5 262v1M191.5 282v3M209.5 329v2M199.5 305v2M483.5 302v2M184.5 263v2M360.5 240v2M463.5 263v1M656.5 240v1M181.5 257v2M466.5 267v2M484.5 304v1M205.5 321v2M213.5 335v1M487.5 308v2M563.5 286v1M138.5 159v3M845.5 273v1M328.5 312v1M480.5 296v2M389.5 187v2M195.5 294v3M433.5 185v2M798.5 215v2M159.5 218v3M423.5 170v2M477.5 289v3M846.5 274v1M170.5 237v2M188.5 272v4M332.5 309v1M454.5 244v3M392.5 179v3M220.5 342v1M152.5 195v4M444.5 217v4M820.5 248v1M790.5 207v1M145.5 176v2M44.5 134v1M437.5 196v3M834.5 259v1M364.5 232v2M458.5 254v2M672.5 224v1M878.5 283v1M835.5 260v1M461.5 260v2M521.5 311v1M180.5 256v1M198.5 302v3M706.5 204v1M356.5 250v3M568.5 278v2M347.5 278v3M447.5 227v2M801.5 220v2M632.5 263v2M667.5 230v1M384.5 197v2M62.5 147v1M396.5 171v2M722.5 184v1M173.5 243v2M351.5 268v3M376.5 212v1M43.5 133v1M194.5 291v3M660.5 236v1M202.5 313v3M339.5 300v3M355.5 253v4M440.5 204v2M786.5 204v1M856.5 287v1M714.5 194v2M636.5 256v2M819.5 247v1M451.5 237v2M628.5 270v2M380.5 205v1M472.5 279v2M262.5 329v1M201.5 310v3M675.5 220v1M144.5 174v2M350.5 271v2M372.5 218v2M436.5 192v4M162.5 228v2M468.5 271v2M679.5 217v1M155.5 205v4M457.5 251v3M465.5 266v1M51.5 141v1M254.5 339v1M486.5 307v1M215.5 338v1M804.5 226v1M399.5 168v1M624.5 277v2M479.5 294v2M391.5 182v2M797.5 213v2M216.5 339v1M368.5 225v2M589.5 283v1M151.5 191v4M800.5 219v1M169.5 236v1M172.5 241v2M710.5 200v1M137.5 157v2M265.5 325v1M158.5 215v3M390.5 184v3M450.5 234v3M187.5 269v3M471.5 277v2M443.5 213v4M359.5 242v2M257.5 335v2M346.5 281v2M837.5 262v2M464.5 264v2M50.5 140v1M161.5 225v3M383.5 199v2M652.5 245v1M558.5 290v1M395.5 173v2M190.5 279v3M482.5 300v2M635.5 258v2M782.5 201v1M478.5 292v2M785.5 203v1M847.5 275v2M713.5 196v1M796.5 211v2M422.5 168v2M345.5 283v3M807.5 230v1M379.5 206v2M848.5 277v1M523.5 309v1M403.5 164v1M726.5 180v1M133.5 150v2M249.5 344v1M631.5 265v2M567.5 280v2M619.5 282v1M655.5 241v1M623.5 279v1M724.5 182v1M375.5 213v2M562.5 287v1M342.5 291v3M565.5 283v1M836.5 261v1M197.5 299v3M435.5 189v3M425.5 173v2M203.5 316v2M603.5 287v1M136.5 155v2M421.5 166v2M439.5 202v2M341.5 294v3M627.5 272v1M693.5 208v1M647.5 250v1M193.5 288v3M256.5 337v1M674.5 221v1M821.5 249v1M662.5 234v1M751.5 181v1M340.5 297v3M666.5 231v1M164.5 231v1M721.5 185v1M398.5 169v1M488.5 310v1M456.5 249v2M806.5 228v2M424.5 172v1M358.5 244v2M850.5 279v2M336.5 306v1M382.5 201v2M135.5 153v2M394.5 175v2M428.5 178v1M851.5 281v1M45.5 135v1M401.5 166v1M777.5 197v1M186.5 267v2M344.5 286v2M881.5 281v1M163.5 230v1M728.5 178v1M634.5 260v1M518.5 314v1M427.5 176v2M805.5 227v1M712.5 197v1M420.5 165v1M264.5 326v1M657.5 239v1M681.5 215v1M259.5 333v1M630.5 267v1M325.5 314v1M388.5 189v2M185.5 265v2M838.5 264v1M649.5 248v1M142.5 169v2M715.5 193v1M525.5 307v1M839.5 265v1M251.5 342v1M455.5 247v2M849.5 278v1M707.5 203v1M343.5 288v3M564.5 284v2M757.5 185v1M809.5 232v1M134.5 152v1M768.5 191v1M661.5 235v1M331.5 310v1M637.5 255v1M875.5 285v1M371.5 220v2M808.5 231v1M426.5 175v1M522.5 310v1M476.5 287v2M430.5 181v1M668.5 229v1M400.5 167v1M520.5 312v1M367.5 227v2M723.5 183v1M47.5 137v1M270.5 322v1M779.5 199v1M141.5 167v2M718.5 189v1M338.5 303v2M841.5 268v1M165.5 232v1M676.5 219v1M363.5 234v2M429.5 179v2M842.5 269v1M166.5 233v1M387.5 191v2M815.5 241v2M258.5 334v1M148.5 183v2M671.5 225v1M816.5 243v1M475.5 285v2M778.5 198v1M852.5 282v1M822.5 250v1M253.5 340v1M823.5 251v1M378.5 208v2M517.5 315v1M246.5 346v1M659.5 237v1M840.5 266v2M208.5 327v2M620.5 281v1M261.5 330v1M793.5 209v1M374.5 215v2M811.5 235v1M774.5 195v1M46.5 136v1M690.5 210v1M748.5 179v1M651.5 246v1M717.5 190v2M694.5 207v1M370.5 222v2M362.5 236v2M885.5 278v1M524.5 308v1M833.5 258v1M709.5 201v1M874.5 286v1M212.5 334v1M402.5 165v1M725.5 181v1M432.5 184v1M566.5 282v1M663.5 233v1M295.5 322v1M654.5 242v1M219.5 341v1M600.5 289v1M854.5 285v1M832.5 257v1M561.5 288v1M855.5 286v1M604.5 286v1M333.5 308v1M789.5 206v1M210.5 331v1" fill="none" stroke="#000" stroke-width="1"/>
<path d="M23 88.5h2M571 222.5h3M577 222.5h3M267 207.5h2M602 207.5h2M625 189.5h2M433 126.5h3M231 184.5h2M207 166.5h2M457 144.5h2M291 206.5h2M876 206.5h2M547 214.5h3M106 99.5h3M668 165.5h2M397 118.5h3M403 118.5h3M409 118.5h3M64 104.5h3M620 193.5h2M781 148.5h2M608 202.5h2M326 185.5h2M631 185.5h2M871 203.5h2M679 161.5h2M811 161.5h2M559 219.5h3M643 177.5h2M823 167.5h2M94 102.5h2M136 102.5h2M806 158.5h2M661 168.5h2M733 138.5h3M739 138.5h3M698 155.5h2M800 155.5h2M308 195.5h2M722 141.5h2M757 141.5h3M703 152.5h2M769 145.5h3M320 188.5h2M82 106.5h3M53 100.5h2M100 100.5h3M638 180.5h2M273 209.5h2M284 209.5h2M112 98.5h3M130 98.5h2M674 163.5h2M716 143.5h2M764 143.5h2M565 221.5h3M829 169.5h2M47 97.5h2M119 97.5h2M124 97.5h3M727 139.5h3M745 139.5h3M613 198.5h2M794 153.5h2M4 90.5h3M10 90.5h2M34 90.5h2M541 212.5h3M71 105.5h2M76 105.5h3M224 179.5h2M379 129.5h2M685 159.5h2M40 93.5h2M428 124.5h2M751 140.5h3M584 220.5h2M787 150.5h2M161 122.5h2M279 210.5h2M536 210.5h2M883 210.5h2M775 146.5h2M710 147.5h2M254 200.5h2M142 107.5h2M16 89.5h3M29 89.5h2M817 164.5h2M865 199.5h2M314 191.5h2M553 216.5h2M590 216.5h2M212 170.5h2M835 172.5h2M59 103.5h2M89 103.5h2M445 134.5h2M691 157.5h3M260 204.5h2M649 174.5h2M242 192.5h2M415 119.5h2M391 121.5h2M421 121.5h2M655 171.5h2M172.5 130v1M249.5 197v1M183.5 142v1M272.5 208v1M290.5 207v1M512.5 189v1M173.5 131v1M12.5 89v1M465.5 150v1M783.5 149v1M440.5 130v1M236.5 187v1M483.5 165v1M297.5 203v1M345.5 167v1M494.5 174v1M138.5 103v1M195.5 155v1M266.5 206v1M149.5 112v1M427.5 123v1M368.5 138v1M667.5 166v1M250.5 198v1M375.5 131v1M160.5 121v1M441.5 131v1M184.5 143v1M842.5 176v1M452.5 140v1M185.5 144v1M296.5 204v1M513.5 190v1M530.5 206v1M495.5 175v1M373.5 133v1M374.5 132v1M777.5 147v1M721.5 142v1M339.5 174v1M519.5 196v1M340.5 173v1M52.5 99v1M715.5 144v1M381.5 128v1M819.5 165v1M196.5 156v1M386.5 124v1M88.5 104v1M633.5 184v1M843.5 177v1M860.5 193v1M202.5 162v1M619.5 194v1M789.5 151v1M333.5 179v1M463.5 148v1M385.5 125v1M645.5 176v1M637.5 181v1M878.5 207v1M349.5 162v1M96.5 101v1M350.5 161v1M439.5 129v1M148.5 111v1M499.5 177v1M493.5 173v1M589.5 217v1M799.5 154v1M348.5 163v1M529.5 205v1M464.5 149v1M500.5 178v1M517.5 194v1M475.5 158v1M535.5 209v1M178.5 136v1M230.5 183v1M344.5 168v1M174.5 132v1M476.5 159v1M882.5 209v1M200.5 160v1M364.5 143v1M237.5 188v1M22.5 89v1M555.5 217v1M256.5 201v1M477.5 160v1M447.5 135v1M506.5 184v1M523.5 200v1M387.5 123v1M36.5 91v1M518.5 195v1M150.5 113v1M423.5 122v1M244.5 193v1M218.5 174v1M286.5 208v1M179.5 137v1M238.5 189v1M453.5 141v1M793.5 152v1M304.5 198v1M531.5 207v1M507.5 185v1M334.5 178v1M524.5 201v1M459.5 145v1M354.5 155v2M168.5 127v1M201.5 161v1M825.5 168v1M180.5 138v1M219.5 175v1M302.5 200v1M303.5 199v1M332.5 180v1M681.5 160v1M278.5 209v1M338.5 175v1M353.5 157v1M393.5 120v1M70.5 104v1M144.5 108v1M118.5 98v1M189.5 149v1M847.5 180v1M705.5 151v1M525.5 202v1M673.5 164v1M853.5 186v1M220.5 176v1M369.5 137v1M849.5 182v1M813.5 162v1M451.5 139v1M651.5 173v1M505.5 183v1M607.5 203v1M166.5 125v1M597.5 211v1M583.5 221v1M657.5 170v1M501.5 179v1M469.5 153v1M854.5 187v1M487.5 168v1M763.5 142v1M167.5 126v1M595.5 213v1M596.5 212v1M831.5 170v1M601.5 208v1M262.5 205v1M470.5 154v1M343.5 169v1M488.5 169v1M481.5 163v1M663.5 167v1M248.5 196v1M316.5 190v1M359.5 149v1M42.5 94v1M697.5 156v1M417.5 120v1M471.5 155v1M58.5 102v1M206.5 165v1M226.5 180v1M709.5 148v1M357.5 151v1M194.5 154v1M298.5 202v1M870.5 202v1M156.5 118v1M848.5 181v1M190.5 150v1M841.5 175v1M28.5 88v1M322.5 187v1M310.5 194v1M328.5 184v1M46.5 96v1M132.5 99v1M214.5 171v1M864.5 198v1M627.5 188v1M367.5 139v1M805.5 157v1M859.5 192v1M363.5 144v1M837.5 173v1M855.5 188v1M615.5 197v1M362.5 145v1M687.5 158v1M154.5 116v1M861.5 194v1M188.5 148v1M489.5 170v1M482.5 164v1M358.5 150v1M511.5 188v1M155.5 117v1" fill="none" stroke="#000" stroke-width="1"/>
<path d="M659 143.5h6M303 129.5h5M319 129.5h2M740 129.5h2M310 131.5h2M315 131.5h2M414 131.5h4M562 203.5h4M4 96.5h2M337 121.5h2M345 121.5h2M399 121.5h2M63 125.5h2M74 125.5h2M733 125.5h2M286 144.5h2M644 144.5h3M657 144.5h2M665 144.5h2M681 159.5h2M243 225.5h2M529 225.5h2M35 89.5h2M349 119.5h2M718 119.5h2M724 119.5h2M347 120.5h2M397 120.5h2M716 120.5h2M289 142.5h2M615 142.5h2M241 226.5h2M460 226.5h2M517 226.5h2M540 210.5h2M818 219.5h2M888 219.5h3M907 219.5h2M521 228.5h2M525 228.5h2M823 221.5h2M828 221.5h2M896 216.5h2M903 216.5h2M559 201.5h2M570 201.5h2M619 140.5h2M351 118.5h2M720 118.5h4M486 251.5h2M863 247.5h5M6 95.5h3M820 220.5h3M886 220.5h2M523 229.5h2M281 147.5h2M630 147.5h9M30 86.5h2M11 93.5h3M868 246.5h4M87 110.5h2M891 218.5h2M284 145.5h2M642 145.5h2M647 145.5h4M654 145.5h3M9 94.5h2M334 123.5h2M341 123.5h2M712 123.5h2M729 123.5h2M65 126.5h9M330 126.5h2M776 173.5h2M89 109.5h3M326 127.5h4M736 127.5h2M298 128.5h5M321 128.5h5M738 128.5h2M481 249.5h3M856 249.5h3M308 130.5h2M317 130.5h2M418 130.5h2M14 92.5h2M40 92.5h2M168 197.5h4M566 202.5h4M239 227.5h2M462 227.5h2M519 227.5h2M544 207.5h2M496 237.5h2M18 90.5h2M37 90.5h2M107 90.5h2M378 90.5h2M312 132.5h3M411 132.5h3M893 217.5h3M279 148.5h2M505 233.5h4M676 156.5h2M793 185.5h2M500 235.5h2M498 236.5h2M163 198.5h5M555 198.5h2M575 198.5h2M617 141.5h2M610 146.5h2M639 146.5h3M651 146.5h3M678 157.5h2M898 215.5h2M764 162.5h2M339 122.5h2M343 122.5h2M92 108.5h2M509 232.5h3M782 178.5h2M94 107.5h2M484 250.5h2M603 152.5h2M61 124.5h2M76 124.5h2M731 124.5h2M494 238.5h2M784 179.5h2M275 150.5h2M693 150.5h2M479 248.5h2M859 248.5h4M621 139.5h2M572 200.5h2M502 234.5h3M16 91.5h2M22 87.5h2M32 87.5h2M374 87.5h2M900 214.5h2M825 222.5h3M786 180.5h2M277 149.5h2M789 182.5h2M120 81.5h2M118 80.5h2M774.5 171v1M672.5 151v1M429.5 155v2M99.5 100v1M450.5 205v2M288.5 143v1M533.5 221v2M715.5 121v1M362.5 101v2M807.5 204v2M297.5 129v2M698.5 145v2M148.5 147v4M201.5 260v2M191.5 235v3M141.5 128v4M221.5 256v1M425.5 144v3M224.5 251v2M388.5 104v2M830.5 220v1M626.5 143v1M205.5 266v1M436.5 170v4M792.5 184v1M844.5 231v1M257.5 195v4M43.5 95v2M909.5 220v1M358.5 108v1M147.5 144v3M187.5 224v3M878.5 231v2M442.5 194v3M402.5 123v1M490.5 245v2M422.5 136v3M140.5 122v6M111.5 87v1M134.5 98v4M588.5 177v3M683.5 160v1M443.5 197v2M403.5 124v1M151.5 157v4M252.5 210v2M144.5 137v2M365.5 96v2M154.5 167v4M762.5 160v1M233.5 234v1M256.5 199v3M882.5 225v2M236.5 230v2M428.5 152v3M354.5 114v2M292.5 139v2M377.5 89v1M204.5 264v2M874.5 239v2M155.5 171v3M763.5 161v1M811.5 210v1M56.5 119v1M439.5 183v4M46.5 101v2M410.5 131v1M599.5 156v1M788.5 181v1M706.5 130v2M273.5 153v1M553.5 198v1M255.5 202v2M57.5 120v1M384.5 97v1M133.5 95v3M424.5 141v3M197.5 251v3M475.5 241v2M435.5 167v3M114.5 83v1M83.5 114v2M453.5 213v2M528.5 226v1M548.5 204v1M438.5 178v5M137.5 109v4M773.5 170v1M583.5 188v2M702.5 137v2M130.5 90v2M139.5 117v5M532.5 223v1M847.5 234v2M855.5 247v2M690.5 153v1M296.5 131v2M744.5 132v2M216.5 261v1M806.5 203v1M674.5 154v1M160.5 189v3M150.5 154v3M376.5 88v1M578.5 195v2M79.5 121v1M27.5 83v1M82.5 116v2M675.5 155v1M102.5 95v1M464.5 228v1M810.5 208v2M122.5 82v1M885.5 221v1M172.5 198v2M536.5 216v1M606.5 150v1M211.5 266v2M409.5 130v1M701.5 139v2M905.5 217v1M20.5 89v1M268.5 162v2M387.5 102v2M357.5 109v2M459.5 225v1M45.5 99v2M478.5 246v2M251.5 212v3M383.5 95v2M157.5 178v4M423.5 139v2M836.5 220v1M98.5 101v2M471.5 235v1M208.5 270v1M189.5 229v3M361.5 103v1M452.5 210v3M364.5 98v2M873.5 241v2M697.5 147v1M42.5 93v2M373.5 86v1M551.5 200v1M353.5 116v2M146.5 141v3M445.5 200v1M851.5 240v2M430.5 157v2M143.5 134v3M368.5 92v2M223.5 253v2M854.5 245v2M247.5 220v2M629.5 146v1M136.5 105v4M427.5 149v3M832.5 218v1M705.5 132v1M489.5 247v2M512.5 231v1M809.5 207v1M470.5 234v1M207.5 268v2M48.5 105v3M455.5 218v3M780.5 176v1M474.5 239v2M44.5 97v2M106.5 91v1M259.5 187v4M196.5 249v2M156.5 174v4M628.5 145v1M235.5 232v1M129.5 89v1M846.5 233v1M132.5 93v2M78.5 122v2M577.5 197v1M186.5 221v3M101.5 96v2M441.5 191v3M267.5 164v3M881.5 227v1M598.5 157v2M493.5 239v2M708.5 128v1M254.5 204v3M850.5 238v2M590.5 170v3M192.5 238v3M135.5 102v3M743.5 131v1M258.5 191v4M175.5 203v2M371.5 88v2M250.5 215v2M813.5 212v2M97.5 103v2M440.5 187v4M835.5 219v1M589.5 173v4M149.5 151v3M877.5 233v2M477.5 244v2M206.5 267v1M360.5 104v2M218.5 259v1M768.5 165v1M685.5 158v1M110.5 88v1M839.5 224v2M539.5 211v1M473.5 237v2M516.5 227v1M246.5 222v2M884.5 222v2M742.5 130v1M608.5 148v1M700.5 141v2M488.5 249v2M437.5 174v4M853.5 244v1M356.5 111v2M775.5 172v1M754.5 148v2M420.5 132v2M283.5 146v1M159.5 185v4M601.5 154v1M230.5 238v2M404.5 125v1M757.5 153v2M26.5 84v1M535.5 217v2M178.5 208v2M210.5 268v1M584.5 186v2M872.5 243v2M593.5 164v2M596.5 160v1M561.5 202v1M466.5 230v1M812.5 211v1M550.5 201v2M138.5 113v4M527.5 227v1M262.5 178v3M229.5 240v2M692.5 151v1M195.5 246v3M543.5 208v1M238.5 228v1M704.5 133v2M838.5 222v2M492.5 241v2M188.5 227v2M113.5 84v1M253.5 207v3M131.5 92v1M696.5 148v1M580.5 193v1M454.5 215v3M592.5 166v2M104.5 93v1M612.5 145v1M852.5 242v2M269.5 160v2M849.5 237v1M81.5 118v2M367.5 94v1M173.5 200v2M181.5 213v2M145.5 139v2M605.5 151v1M465.5 229v1M753.5 147v1M419.5 131v1M51.5 112v2M174.5 202v1M876.5 235v2M177.5 206v2M185.5 219v2M735.5 126v1M28.5 84v1M123.5 83v1M58.5 121v1M29.5 85v1M816.5 216v2M623.5 140v1M426.5 147v2M880.5 228v2M266.5 167v2M124.5 84v1M116.5 80v1M841.5 228v1M162.5 195v2M476.5 243v1M699.5 143v2M624.5 141v1M680.5 158v1M842.5 229v1M370.5 90v1M249.5 217v2M261.5 181v3M848.5 236v1M745.5 134v1M514.5 229v1M433.5 163v2M265.5 169v3M451.5 207v3M797.5 189v2M800.5 194v2M557.5 199v1M749.5 140v1M687.5 156v1M538.5 212v2M213.5 264v1M447.5 202v1M906.5 218v1M260.5 184v3M24.5 86v1M158.5 182v3M703.5 135v2M587.5 180v2M840.5 226v2M815.5 215v1M100.5 98v2M837.5 221v1M534.5 219v2M472.5 236v1M232.5 235v2M781.5 177v1M80.5 120v1M161.5 192v3M883.5 224v1M770.5 167v1M707.5 129v1M446.5 201v1M752.5 145v2M771.5 168v1M194.5 243v3M421.5 134v2M595.5 161v2M755.5 150v2M96.5 105v2M179.5 210v2M804.5 200v2M669.5 147v1M228.5 242v2M756.5 152v1M796.5 187v2M748.5 138v2M902.5 215v1M726.5 120v1M180.5 212v1M220.5 257v1M491.5 243v2M395.5 117v2M112.5 85v2M115.5 81v2M264.5 172v3M50.5 110v2M190.5 232v3M549.5 203v1M591.5 168v2M396.5 119v1M814.5 214v1M295.5 133v2M457.5 223v1M607.5 149v1M875.5 237v2M769.5 166v1M381.5 92v2M667.5 145v1M600.5 155v1M432.5 161v2M710.5 125v1M751.5 143v2M291.5 141v1M799.5 192v2M668.5 146v1M272.5 154v2M406.5 127v1M84.5 113v1M803.5 199v1M795.5 186v1M176.5 205v1M552.5 199v1M456.5 221v2M391.5 110v2M49.5 108v2M392.5 112v1M333.5 124v1M153.5 164v3M614.5 143v1M579.5 194v1M582.5 190v1M103.5 94v1M60.5 123v1M39.5 91v1M126.5 86v1M215.5 262v1M369.5 91v1M227.5 244v2M263.5 175v3M714.5 122v1M513.5 230v1M431.5 159v2M586.5 182v2M747.5 136v2M750.5 141v2M405.5 126v1M758.5 155v1M686.5 157v1M802.5 197v2M182.5 215v1M394.5 115v2M52.5 114v1M183.5 216v1M390.5 108v2M467.5 231v1M449.5 204v1M53.5 115v1M59.5 122v1M817.5 218v1M547.5 205v1M766.5 163v1M125.5 85v1M434.5 165v2M163.5 197v1M625.5 142v1M222.5 255v1M689.5 154v1M791.5 183v1M843.5 230v1M594.5 163v1M34.5 88v1M670.5 148v2M212.5 265v1M294.5 135v2M746.5 135v1M193.5 241v2M448.5 203v1M574.5 199v1M671.5 150v1M798.5 191v1M142.5 132v2M558.5 200v1M728.5 122v1M200.5 258v2M709.5 126v2M231.5 237v1M531.5 224v1M271.5 156v2M380.5 91v1M86.5 111v1M372.5 87v1M831.5 219v1M219.5 258v1M801.5 196v1M772.5 169v1M359.5 106v2M761.5 159v1M226.5 246v3M805.5 202v1M727.5 121v1M609.5 147v1M393.5 113v2M684.5 159v1M55.5 118v1M613.5 144v1M363.5 100v1M199.5 256v2M602.5 153v1M234.5 233v1M152.5 161v3M386.5 100v2M203.5 263v1M293.5 137v2M585.5 184v2M597.5 159v1M274.5 151v2M554.5 197v1M401.5 122v1M673.5 152v2M760.5 157v2M871.5 245v1M184.5 217v2M581.5 191v2M407.5 128v1M332.5 125v1M515.5 228v1M105.5 92v1M270.5 158v2M54.5 116v2M245.5 224v1M389.5 106v2M691.5 152v1M202.5 262v1M237.5 229v1M542.5 209v1M408.5 129v1M217.5 260v1M336.5 122v1M109.5 89v1M458.5 224v1M214.5 263v1M469.5 233v1M198.5 254v2M47.5 103v2M382.5 94v1M537.5 214v2M385.5 98v2M779.5 175v1M21.5 88v1M355.5 113v1M127.5 87v1M225.5 249v2M25.5 85v1M444.5 199v1M117.5 79v1M128.5 88v1M845.5 232v1M879.5 230v1M808.5 206v1M695.5 149v1M546.5 206v1M778.5 174v1M833.5 217v1M468.5 232v1M366.5 95v1M688.5 155v1M248.5 219v1M834.5 218v1M85.5 112v1M767.5 164v1M209.5 269v1M759.5 156v1M627.5 144v1M711.5 124v1" fill="none" stroke="#ff0000" stroke-width="1"/>
<line x1="1" y1="47.0" x2="966" y2="47.0" stroke="#ff0000" stroke-width="2"/>
<line x1="117" y1="56.5" x2="959" y2="56.5" stroke="#ff0000" stroke-width="1"/>
<path d="M694 85.5h40M421 71.5h39M538 77.5h39M225 61.5h39M773 89.5h39M597 80.5h39M616 81.5h39M303 65.5h39M792 90.5h39M851 93.5h39M342 67.5h40M147 57.5h39M675 84.5h39M323 66.5h39M870 94.5h40M890 95.5h39M117 55.5h30M714 86.5h39M401 70.5h39M479 74.5h39M127 56.5h39M518 76.5h40M206 60.5h39M577 79.5h39M655 83.5h39M812 91.5h39M499 75.5h39M186 59.5h39M753 88.5h39M284 64.5h39M245 62.5h39M382 69.5h39M929 97.5h30M949 98.5h10M558 78.5h39M734 87.5h39M264 63.5h39M831 92.5h39M460 73.5h39M636 82.5h39M362 68.5h39M166 58.5h40M117 54.5h10M910 96.5h39M440 72.5h39" fill="none" stroke="#ff00ff" stroke-width="1"/>
<line x1="749" y1="86.5" x2="959" y2="86.5" stroke="#ff0000" stroke-width="1"/>
<line x1="1" y1="140.5" x2="966" y2="140.5" stroke="#0000ff" stroke-width="1" stroke-dasharray="18 6"/>
<line x1="547" y1="169.5" x2="959" y2="169.5" stroke="#ff0000" stroke-width="1"/>
<line x1="155" y1="245.5" x2="959" y2="245.5" stroke="#007800" stroke-width="1"/>
<line x1="479" y1="301.5" x2="959" y2="301.5" stroke="#007800" stroke-width="1"/>
<line x1="1" y1="312.0" x2="966" y2="312.0" stroke="#006400" stroke-width="2"/>
<path d="M222 310.5h53M918 284.5h41M302 307.5h54M731 291.5h53M838 287.5h54M677 293.5h54M490 300.5h53M784 289.5h54M597 296.5h53M249 309.5h53M543 298.5h54M356 305.5h53M463 301.5h54M892 285.5h53M650 294.5h54M758 290.5h53M409 303.5h54M704 292.5h54M517 299.5h53M275 308.5h54M865 286.5h53M624 295.5h53M436 302.5h54M208 311.5h41M208 312.5h14M811 288.5h54M570 297.5h54M383 304.5h53M329 306.5h54M945 283.5h14" fill="none" stroke="#00ff00" stroke-width="1"/>
<path d="M512 281.5h2M600 229.5h2M683 180.5h2M502 287.5h2M771 128.5h2M607 225.5h2M583 239.5h2M695 173.5h2M515 279.5h2M598 230.5h2M625 214.5h2M713 162.5h2M507 284.5h2M534 268.5h2M617 219.5h2M703 168.5h2M705 167.5h2M693 174.5h2M720 158.5h2M541 264.5h2M517 278.5h2M603 227.5h2M505 285.5h2M532 269.5h2M620 217.5h2M622 216.5h2M524 274.5h2M612 222.5h2M725 155.5h2M752 139.5h2M627 213.5h2M654 197.5h2M717 160.5h2M537 266.5h2M732 151.5h2M527 272.5h2M554 256.5h2M556 255.5h2M519 277.5h2M544 262.5h2M546 261.5h2M632 210.5h2M659 194.5h2M561 252.5h2M649 200.5h2M651 199.5h2M559 253.5h2M754 138.5h2M488 295.5h2M656 196.5h2M551 258.5h2M566 249.5h2M593 233.5h2M761 134.5h2M681 181.5h2M737 148.5h2M585 238.5h2M669 188.5h2M573 245.5h2M493 292.5h2M661 193.5h2M688 177.5h2M590 235.5h2M500 288.5h2M769 129.5h2M588 236.5h2M671 187.5h2M757 136.5h2M490 294.5h2M686 178.5h2M595 232.5h2M678 183.5h2M497 290.5h2M766 131.5h2M495 291.5h2M522 275.5h2M605 226.5h2M691 175.5h2M708 165.5h2M710 164.5h2M529 271.5h2M673 186.5h2M700 170.5h2M715 161.5h2M610 223.5h2M615 220.5h2M642 204.5h2M634 209.5h2M722 157.5h2M747 142.5h2M739 147.5h2M647 201.5h2M730 152.5h2M549 259.5h2M637 207.5h2M744 144.5h2M639 206.5h2M629 212.5h2M742 145.5h2M644 203.5h2M581 240.5h2M749 141.5h2M571 246.5h2M563 251.5h2M676 184.5h2M759 135.5h2M578 242.5h2M764 132.5h2M666 190.5h2M510 282.5h2M698 171.5h2M576 243.5h2M735 149.5h2M727 154.5h2M539 265.5h2M664 191.5h2M568 248.5h2M558.5 254v1M531.5 270v1M504.5 286v1M592.5 234v1M646.5 202v1M734.5 150v1M553.5 257v1M565.5 250v1M653.5 198v1M680.5 182v1M741.5 146v1M768.5 130v1M492.5 293v1M580.5 241v1M499.5 289v1M526.5 273v1M641.5 205v1M668.5 189v1M587.5 237v1M614.5 221v1M702.5 169v1M729.5 153v1M756.5 137v1M548.5 260v1M690.5 176v1M675.5 185v1M763.5 133v1M636.5 208v1M514.5 280v1M487.5 296v1M575.5 244v1M602.5 228v1M536.5 267v1M521.5 276v1M609.5 224v1M663.5 192v1M751.5 140v1M624.5 215v1M724.5 156v1M697.5 172v1M509.5 283v1M543.5 263v1M570.5 247v1M597.5 231v1M712.5 163v1M658.5 195v1M685.5 179v1M631.5 211v1M719.5 159v1M746.5 143v1M773.5 127v1M619.5 218v1M707.5 166v1" fill="none" stroke="#007800" stroke-width="1"/>
<path d="M915.5 351v1M877.5 312v1M732.5 165v1M854.5 289v1M892.5 327v2M727.5 160v1M830.5 264v1M897.5 333v1M802.5 236v1M764.5 197v1M850.5 285v1M812.5 246v1M733.5 166v1M717.5 149v1M893.5 329v1M765.5 198v1M760.5 193v1M808.5 242v1M851.5 286v1M883.5 318v1M756.5 189v1M718.5 150v1M804.5 238v1M766.5 199v1M738.5 171v1M786.5 220v1M714.5 146v1M884.5 319v1M899.5 335v1M734.5 167v1M782.5 216v1M837.5 271v2M904.5 340v1M880.5 315v1M809.5 243v1M857.5 292v1M730.5 163v1M852.5 287v1M740.5 173v1M724.5 156v1M900.5 336v1M767.5 200v1M815.5 249v1M848.5 283v1M810.5 244v1M896.5 332v1M858.5 293v1M763.5 196v1M725.5 157v1M811.5 245v1M885.5 320v1M806.5 240v1M783.5 217v1M721.5 153v1M881.5 316v1M891.5 326v1M741.5 174v1M784.5 218v1M887.5 322v1M737.5 170v1M699.5 131v1M859.5 294v1M907.5 343v1M835.5 269v1M902.5 338v1M774.5 207v1M769.5 202v1M855.5 290v1M817.5 251v1M903.5 339v1M898.5 334v1M722.5 154v1M770.5 203v1M813.5 247v1M861.5 296v1M894.5 330v1M856.5 291v1M888.5 323v1M723.5 155v1M771.5 204v1M781.5 214v2M743.5 176v1M791.5 225v1M889.5 324v1M744.5 177v1M866.5 301v1M739.5 172v1M787.5 221v1M909.5 345v1M814.5 248v1M776.5 209v1M862.5 297v1M824.5 258v1M735.5 168v1M745.5 178v1M905.5 341v1M772.5 205v1M820.5 254v1M901.5 337v1M863.5 298v1M768.5 201v1M890.5 325v1M816.5 250v1M778.5 211v1M906.5 342v1M773.5 206v1M788.5 222v1M750.5 183v1M726.5 158v2M703.5 135v1M698.5 130v1M746.5 179v1M916.5 352v1M789.5 223v1M821.5 255v1M742.5 175v1M704.5 136v1M790.5 224v1M864.5 299v1M874.5 309v1M912.5 348v1M785.5 219v1M747.5 180v1M779.5 212v1M700.5 132v1M822.5 256v1M860.5 295v1M870.5 305v1M908.5 344v1M865.5 300v1M775.5 208v1M913.5 349v1M818.5 252v1M780.5 213v1M795.5 229v1M757.5 190v1M838.5 273v1M705.5 137v1M753.5 186v1M715.5 147v1M748.5 181v1M796.5 230v1M828.5 262v1M701.5 133v1M839.5 274v1M749.5 182v1M711.5 143v1M833.5 267v1M871.5 306v1M706.5 138v1M792.5 226v1M754.5 187v1M914.5 350v1M819.5 253v1M707.5 139v1M829.5 263v1M867.5 302v1M702.5 134v1M910.5 346v1M872.5 307v1M920.5 356v1M777.5 210v1M825.5 259v1M868.5 303v1M845.5 280v1M807.5 241v1M840.5 275v1M728.5 161v1M712.5 144v1M793.5 227v1M755.5 188v1M841.5 276v1M803.5 237v1M798.5 232v1M708.5 140v1M846.5 281v1M878.5 313v1M751.5 184v1M713.5 145v1M799.5 233v1M761.5 194v1M873.5 308v1M911.5 347v1M794.5 228v1M842.5 277v1M826.5 260v1M836.5 270v1M709.5 141v1M831.5 265v1M869.5 304v1M879.5 314v1M917.5 353v1M752.5 185v1M729.5 162v1M832.5 266v1M827.5 261v1M875.5 310v1M847.5 282v1M895.5 331v1M719.5 151v1M823.5 257v1M800.5 234v1M762.5 195v1M843.5 278v1M805.5 239v1M853.5 288v1M710.5 142v1M758.5 191v1M720.5 152v1M918.5 354v1M801.5 235v1M849.5 284v1M844.5 279v1M716.5 148v1M876.5 311v1M886.5 321v1M797.5 231v1M759.5 192v1M919.5 355v1M736.5 169v1M731.5 164v1M834.5 268v1M882.5 317v1" fill="none" stroke="#007800" stroke-width="1"/>
<path d="M957.5 320v1M792.5 152v1M914.5 276v1M952.5 315v1M835.5 196v1M764.5 124v1M867.5 228v1M948.5 311v1M910.5 272v1M765.5 125v1M958.5 321v1M760.5 120v1M770.5 130v1M930.5 293v1M906.5 268v1M868.5 229v1M883.5 245v1M845.5 206v1M766.5 126v1M750.5 109v1M888.5 250v1M793.5 153v1M755.5 114v1M841.5 202v1M803.5 163v1M884.5 246v1M932.5 295v1M916.5 278v1M751.5 110v1M911.5 273v1M799.5 159v1M921.5 283v1M794.5 154v1M880.5 242v1M842.5 203v1M747.5 106v1M869.5 230v1M917.5 279v1M767.5 127v1M729.5 88v1M815.5 176v1M937.5 300v1M865.5 226v1M913.5 275v1M885.5 247v1M847.5 208v1M933.5 296v1M895.5 257v1M768.5 128v1M816.5 177v1M800.5 160v1M881.5 243v1M843.5 204v1M891.5 253v1M934.5 297v1M918.5 280v1M928.5 290v1M839.5 200v1M801.5 161v1M887.5 249v1M849.5 210v1M754.5 113v1M821.5 182v1M924.5 286v1M797.5 157v1M919.5 281v1M774.5 134v1M736.5 95v1M769.5 129v1M817.5 178v1M872.5 233v2M920.5 282v1M915.5 277v1M732.5 91v1M854.5 215v1M892.5 254v1M775.5 135v1M935.5 298v1M807.5 167v1M840.5 201v1M802.5 162v1M728.5 87v1M850.5 211v1M771.5 131v1M893.5 255v1M931.5 294v1M941.5 304v1M798.5 158v1M846.5 207v1M808.5 168v1M889.5 251v1M828.5 189v1M756.5 115v1M804.5 164v1M926.5 288v1M814.5 174v2M776.5 136v1M824.5 185v1M752.5 111v1M819.5 180v1M922.5 284v1M899.5 261v1M772.5 132v1M734.5 93v1M820.5 181v1M782.5 142v1M942.5 305v1M809.5 169v1M857.5 218v1M730.5 89v1M852.5 213v1M778.5 138v1M890.5 252v1M900.5 262v1M938.5 301v1M773.5 133v1M805.5 165v1M853.5 214v1M848.5 209v1M896.5 258v1M939.5 302v1M923.5 285v1M811.5 171v1M844.5 205v1M806.5 166v1M783.5 143v1M826.5 187v1M874.5 236v1M929.5 291v2M731.5 90v1M779.5 139v1M741.5 100v1M949.5 312v1M822.5 183v1M944.5 307v1M925.5 287v1M737.5 96v1M859.5 220v1M897.5 259v1M907.5 269v1M945.5 308v1M818.5 179v1M780.5 140v1M940.5 303v1M757.5 116v2M812.5 172v1M733.5 92v1M855.5 216v1M903.5 265v1M909.5 271v1M898.5 260v1M936.5 299v1M946.5 309v1M851.5 212v1M813.5 173v1M861.5 222v1M894.5 256v1M856.5 217v1M833.5 194v1M738.5 97v1M786.5 146v1M781.5 141v1M829.5 190v1M927.5 289v1M744.5 103v1M866.5 227v1M904.5 266v1M777.5 137v1M739.5 98v1M825.5 186v1M787.5 147v1M947.5 310v1M830.5 191v1M740.5 99v1M862.5 223v1M735.5 94v1M943.5 306v1M745.5 104v1M905.5 267v1M953.5 316v1M810.5 170v1M858.5 219v1M901.5 263v1M863.5 224v1M878.5 240v1M873.5 235v1M761.5 121v1M788.5 148v1M836.5 197v1M831.5 192v1M879.5 241v1M784.5 144v1M746.5 105v1M832.5 193v1M954.5 317v1M827.5 188v1M789.5 149v1M875.5 237v1M837.5 198v1M742.5 101v1M864.5 225v1M790.5 150v1M902.5 264v1M912.5 274v1M823.5 184v1M785.5 145v1M950.5 313v1M762.5 122v1M955.5 318v1M860.5 221v1M908.5 270v1M870.5 231v1M758.5 118v1M951.5 314v1M763.5 123v1M795.5 155v1M876.5 238v1M838.5 199v1M886.5 248v1M759.5 119v1M743.5 102v1M791.5 151v1M753.5 112v1M748.5 107v1M834.5 195v1M796.5 156v1M882.5 244v1M956.5 319v1M877.5 239v1M749.5 108v1M871.5 232v1" fill="none" stroke="#ff0000" stroke-width="1"/>
<path d="M828 206.5h2M838 212.5h2M796 186.5h2M761 164.5h2M809 194.5h2M852 221.5h2M817 199.5h2M785 179.5h2M804 191.5h2M769 169.5h2M775 173.5h2M812 196.5h2M806 192.5h2M825 204.5h2M783 178.5h2M793 184.5h2M833 209.5h2M801 189.5h2M772 171.5h2M854 222.5h2M849 219.5h2M822 202.5h2M759 163.5h2M836 211.5h2M767 168.5h2M780 176.5h2M830 207.5h2M788 181.5h2M777 174.5h2M791 183.5h2M846 217.5h2M841 214.5h2M799 188.5h2M820 201.5h2M814 197.5h2M844 216.5h2M764 166.5h2M790.5 182v1M763.5 165v1M848.5 218v1M787.5 180v1M819.5 200v1M758.5 162v1M811.5 195v1M843.5 215v1M808.5 193v1M782.5 177v1M840.5 213v1M779.5 175v1M832.5 208v1M835.5 210v1M803.5 190v1M771.5 170v1M774.5 172v1M856.5 223v1M824.5 203v1M827.5 205v1M766.5 167v1M795.5 185v1M798.5 187v1M851.5 220v1M816.5 198v1" fill="none" stroke="#ff0000" stroke-width="1"/>
<rect x="110.5" y="49.5" width="30" height="77" fill="none" stroke="#000" stroke-width="1"/>
<rect x="185.5" y="236.5" width="38" height="81" fill="none" stroke="#000" stroke-width="1"/>
<rect x="351.5" y="56.5" width="38" height="51" fill="none" stroke="#000" stroke-width="1"/>
<rect x="464.5" y="201.5" width="38" height="106" fill="none" stroke="#000" stroke-width="1"/>
<rect x="705.5" y="80.5" width="30" height="47" fill="none" stroke="#000" stroke-width="1"/>
<rect x="818.5" y="188.5" width="38" height="77" fill="none" stroke="#000" stroke-width="1"/>
<rect x="0" y="357" width="1024" height="3" fill="#c8c8c8"/>
<rect x="0" y="360" width="1024" height="2" fill="#fff"/>
<rect x="0" y="362" width="1024" height="4" fill="#c8c8c8"/>
<rect x="0" y="0" width="1" height="708" fill="#c8c8c8"/>
<rect x="1" y="366" width="966" height="295" fill="#fff"/>
<line x1="5" y1="367.5" x2="966" y2="367.5" stroke="#909090" stroke-width="1" stroke-dasharray="1 4"/>
<line x1="5" y1="379.5" x2="966" y2="379.5" stroke="#909090" stroke-width="1" stroke-dasharray="1 4"/>
<line x1="5" y1="394.5" x2="966" y2="394.5" stroke="#909090" stroke-width="1" stroke-dasharray="1 4"/>
<line x1="5" y1="408.5" x2="966" y2="408.5" stroke="#909090" stroke-width="1" stroke-dasharray="1 4"/>
<line x1="5" y1="421.5" x2="966" y2="421.5" stroke="#909090" stroke-width="1" stroke-dasharray="1 4"/>
<line x1="5" y1="436.5" x2="966" y2="436.5" stroke="#909090" stroke-width="1" stroke-dasharray="1 4"/>
<line x1="5" y1="452.5" x2="966" y2="452.5" stroke="#909090" stroke-width="1" stroke-dasharray="1 4"/>
<line x1="5" y1="468.5" x2="966" y2="468.5" stroke="#909090" stroke-width="1" stroke-dasharray="1 4"/>
<line x1="5" y1="485.5" x2="966" y2="485.5" stroke="#909090" stroke-width="1" stroke-dasharray="1 4"/>
<line x1="5" y1="503.5" x2="966" y2="503.5" stroke="#909090" stroke-width="1" stroke-dasharray="1 4"/>
<line x1="5" y1="521.5" x2="966" y2="521.5" stroke="#909090" stroke-width="1" stroke-dasharray="1 4"/>
<line x1="5" y1="541.5" x2="966" y2="541.5" stroke="#909090" stroke-width="1" stroke-dasharray="1 4"/>
<line x1="5" y1="561.5" x2="966" y2="561.5" stroke="#909090" stroke-width="1" stroke-dasharray="1 4"/>
<line x1="5" y1="583.5" x2="966" y2="583.5" stroke="#909090" stroke-width="1" stroke-dasharray="1 4"/>
<line x1="5" y1="606.5" x2="966" y2="606.5" stroke="#909090" stroke-width="1" stroke-dasharray="1 4"/>
<line x1="5" y1="631.5" x2="966" y2="631.5" stroke="#909090" stroke-width="1" stroke-dasharray="1 4"/>
<line x1="5" y1="657.5" x2="966" y2="657.5" stroke="#909090" stroke-width="1" stroke-dasharray="1 4"/>
<line x1="132.5" y1="366" x2="132.5" y2="661" stroke="#000" stroke-width="1" stroke-dasharray="3 3"/>
<line x1="215.5" y1="366" x2="215.5" y2="661" stroke="#000" stroke-width="1" stroke-dasharray="3 3"/>
<line x1="381.5" y1="366" x2="381.5" y2="661" stroke="#000" stroke-width="1" stroke-dasharray="3 3"/>
<line x1="487.5" y1="366" x2="487.5" y2="661" stroke="#000" stroke-width="1" stroke-dasharray="3 3"/>
<line x1="728.5" y1="366" x2="728.5" y2="661" stroke="#000" stroke-width="1" stroke-dasharray="3 3"/>
<line x1="841.5" y1="366" x2="841.5" y2="661" stroke="#000" stroke-width="1" stroke-dasharray="3 3"/>
<polygon points="1.5,492.0 5.0,492.0 25.0,489.0 50.0,487.0 65.0,489.0 75.0,494.0 82.5,500.0 90.0,507.0 97.0,514.0 102.0,519.0 110.0,522.5 117.0,524.0 123.0,525.0 128.0,524.5 131.0,523.5 133.0,521.0 136.0,512.0 139.0,503.0 143.0,492.0 146.0,484.0 150.0,472.0 153.6,460.0 156.0,455.0 160.0,444.0 164.0,437.0 171.0,434.0 176.0,428.0 181.0,423.0 186.0,419.0 190.0,412.0 194.0,405.0 198.0,400.0 202.4,395.0 210.0,384.0 220.0,379.0 235.0,379.0 250.0,389.0 256.0,392.0 270.0,393.0 298.0,393.5 305.0,399.0 312.0,404.5 320.0,406.5 327.0,409.0 335.0,413.0 340.0,420.0 345.0,429.0 350.0,436.0 354.0,445.0 358.0,458.0 362.0,465.0 367.0,471.5 369.0,475.0 373.0,480.0 378.0,482.5 384.0,483.5 392.0,483.5 400.0,484.0 406.0,479.5 411.0,478.0 419.0,478.0 424.0,474.0 428.0,470.0 434.0,465.5 437.0,459.0 441.0,448.0 445.0,445.0 450.0,443.0 454.0,437.0 458.0,433.5 464.0,429.5 470.0,426.5 474.0,424.0 478.0,420.5 482.0,415.5 497.0,415.0 504.0,415.0 508.0,417.0 512.0,418.5 524.5,427.8 537.0,427.8 562.0,426.5 579.5,427.0 585.8,425.2 593.0,430.0 599.5,430.2 612.0,434.5 622.0,439.0 630.0,446.0 637.0,455.2 644.5,457.0 662.0,466.5 684.5,482.8 692.0,484.5 704.5,490.2 711.0,500.0 715.0,505.0 719.0,511.0 723.0,517.0 727.0,523.0 731.0,526.5 736.0,528.5 743.0,531.0 748.0,530.5 754.0,529.5 760.0,529.0 768.0,529.0 775.0,527.5 790.0,527.0 800.0,525.5 810.0,524.5 818.0,523.0 825.0,525.0 832.0,525.0 838.0,523.5 843.0,522.0 848.0,521.0 851.0,519.0 854.0,516.5 866.0,516.0 876.0,516.0 885.0,517.0 893.0,518.5 909.0,520.0 909.0,565.0 900.0,565.0 898.0,563.8 888.0,566.2 878.0,569.5 868.0,572.5 860.5,576.2 853.0,580.0 840.5,582.0 830.5,582.5 818.0,581.2 793.0,583.8 768.0,584.5 752.0,584.5 746.0,584.0 738.0,582.0 732.0,582.5 726.0,584.5 721.0,587.5 717.0,591.0 713.0,594.0 709.0,596.0 705.0,597.5 700.0,595.0 695.0,592.5 690.0,590.5 684.0,588.0 678.0,586.5 672.0,586.5 668.0,587.5 664.0,585.5 658.0,582.0 652.0,578.5 645.0,577.0 640.0,571.5 636.0,569.0 631.0,569.0 627.0,570.0 622.0,572.0 618.0,566.0 615.0,561.0 611.0,556.0 606.0,550.5 601.0,545.0 596.0,540.0 592.0,535.0 588.0,532.5 583.0,528.0 578.0,523.0 574.0,521.0 569.0,519.5 564.0,522.0 558.0,524.0 552.0,524.0 545.0,522.0 538.0,519.0 532.0,516.5 528.0,518.0 524.0,521.0 520.0,530.5 516.0,538.5 512.0,544.5 507.0,553.0 503.0,560.0 499.0,564.0 494.0,568.0 489.0,570.5 485.0,573.0 479.0,577.5 470.0,579.0 463.0,581.0 456.0,579.5 449.0,576.0 445.0,576.0 441.0,576.5 438.0,571.0 435.0,566.0 430.0,564.0 418.0,564.0 412.0,568.0 408.0,569.5 403.0,569.5 400.0,568.0 392.0,568.0 384.0,569.5 378.0,569.5 372.0,570.5 365.0,571.5 358.0,574.0 355.0,580.0 352.0,584.0 346.0,587.0 340.0,592.0 336.0,594.0 328.0,590.0 320.0,586.5 313.0,582.5 305.0,581.0 298.0,580.0 290.0,572.0 283.0,565.5 274.0,565.5 267.0,569.0 261.0,572.5 256.0,577.5 250.0,585.0 245.0,593.0 241.0,600.0 235.0,608.0 225.0,622.5 215.0,633.8 205.0,637.5 200.0,638.0 193.0,635.5 186.0,633.0 175.0,640.0 168.0,645.0 162.5,648.8 156.0,635.0 150.0,622.5 143.0,612.0 139.0,605.0 135.0,595.0 132.0,588.5 122.0,588.5 114.0,587.5 108.0,585.5 102.0,584.0 95.0,586.5 88.0,589.0 76.0,589.5 67.0,591.0 55.0,591.5 44.0,592.5 37.0,591.5 30.0,590.0 24.0,587.0 18.0,582.5 12.0,579.0 5.0,576.0 1.5,576.0" fill="#fff" stroke="#fff" stroke-width="1"/>
<rect x="4" y="540" width="1" height="2" fill="#000"/>
<rect x="2" y="542" width="5" height="14" fill="#000"/>
<rect x="3" y="543" width="3" height="12" fill="#ff0000"/>
<rect x="12" y="543" width="1" height="3" fill="#000"/>
<rect x="12" y="558" width="1" height="7" fill="#000"/>
<rect x="10" y="546" width="5" height="12" fill="#000"/>
<rect x="11" y="547" width="3" height="10" fill="#ff0000"/>
<rect x="19" y="573" width="1" height="2" fill="#000"/>
<rect x="17" y="560" width="5" height="13" fill="#000"/>
<rect x="18" y="561" width="3" height="11" fill="#ff0000"/>
<rect x="27" y="578" width="1" height="3" fill="#000"/>
<rect x="27" y="586" width="1" height="3" fill="#000"/>
<rect x="25" y="581" width="5" height="5" fill="#000"/>
<rect x="26" y="582" width="3" height="3" fill="#ff0000"/>
<rect x="34" y="580" width="1" height="14" fill="#000"/>
<rect x="32" y="561" width="5" height="19" fill="#000"/>
<rect x="33" y="562" width="3" height="17" fill="#fff"/>
<rect x="42" y="566" width="1" height="9" fill="#000"/>
<rect x="40" y="556" width="5" height="10" fill="#000"/>
<rect x="41" y="557" width="3" height="8" fill="#fff"/>
<rect x="49" y="512" width="1" height="14" fill="#000"/>
<rect x="49" y="556" width="1" height="2" fill="#000"/>
<rect x="47" y="526" width="5" height="30" fill="#000"/>
<rect x="48" y="527" width="3" height="28" fill="#fff"/>
<rect x="57" y="518" width="1" height="10" fill="#000"/>
<rect x="57" y="530" width="1" height="9" fill="#000"/>
<rect x="55" y="528" width="5" height="2" fill="#000"/>
<rect x="64" y="523" width="1" height="1" fill="#000"/>
<rect x="64" y="539" width="1" height="2" fill="#000"/>
<rect x="62" y="524" width="5" height="15" fill="#000"/>
<rect x="63" y="525" width="3" height="13" fill="#fff"/>
<rect x="72" y="537" width="1" height="1" fill="#000"/>
<rect x="72" y="545" width="1" height="6" fill="#000"/>
<rect x="70" y="538" width="5" height="7" fill="#000"/>
<rect x="71" y="539" width="3" height="5" fill="#ff0000"/>
<rect x="77" y="544" width="5" height="8" fill="#000"/>
<rect x="78" y="545" width="3" height="6" fill="#ff0000"/>
<rect x="85" y="555" width="5" height="15" fill="#000"/>
<rect x="86" y="556" width="3" height="13" fill="#ff0000"/>
<rect x="95" y="551" width="1" height="3" fill="#000"/>
<rect x="95" y="562" width="1" height="7" fill="#000"/>
<rect x="93" y="554" width="5" height="8" fill="#000"/>
<rect x="94" y="555" width="3" height="6" fill="#fff"/>
<rect x="102" y="554" width="1" height="3" fill="#000"/>
<rect x="102" y="566" width="1" height="2" fill="#000"/>
<rect x="100" y="557" width="5" height="9" fill="#000"/>
<rect x="101" y="558" width="3" height="7" fill="#ff0000"/>
<rect x="110" y="554" width="1" height="10" fill="#000"/>
<rect x="110" y="573" width="1" height="3" fill="#000"/>
<rect x="108" y="564" width="5" height="9" fill="#000"/>
<rect x="109" y="565" width="3" height="7" fill="#ff0000"/>
<rect x="117" y="565" width="1" height="3" fill="#000"/>
<rect x="117" y="571" width="1" height="4" fill="#000"/>
<rect x="115" y="568" width="5" height="3" fill="#000"/>
<rect x="116" y="569" width="3" height="1" fill="#ff0000"/>
<rect x="125" y="546" width="1" height="9" fill="#000"/>
<rect x="123" y="555" width="5" height="6" fill="#000"/>
<rect x="124" y="556" width="3" height="4" fill="#fff"/>
<rect x="132" y="527" width="1" height="4" fill="#000"/>
<rect x="132" y="534" width="1" height="7" fill="#000"/>
<rect x="130" y="531" width="5" height="3" fill="#000"/>
<rect x="131" y="532" width="3" height="1" fill="#fff"/>
<rect x="140" y="443" width="1" height="21" fill="#000"/>
<rect x="138" y="464" width="5" height="36" fill="#000"/>
<rect x="139" y="465" width="3" height="34" fill="#fff"/>
<rect x="147" y="433" width="1" height="6" fill="#000"/>
<rect x="147" y="463" width="1" height="3" fill="#000"/>
<rect x="145" y="439" width="5" height="24" fill="#000"/>
<rect x="146" y="440" width="3" height="22" fill="#ff0000"/>
<rect x="153" y="420" width="5" height="38" fill="#000"/>
<rect x="154" y="421" width="3" height="36" fill="#fff"/>
<rect x="162" y="410" width="1" height="16" fill="#000"/>
<rect x="162" y="433" width="1" height="6" fill="#000"/>
<rect x="160" y="426" width="5" height="7" fill="#000"/>
<rect x="161" y="427" width="3" height="5" fill="#ff0000"/>
<rect x="168" y="439" width="5" height="31" fill="#000"/>
<rect x="169" y="440" width="3" height="29" fill="#ff0000"/>
<rect x="177" y="471" width="1" height="8" fill="#000"/>
<rect x="175" y="449" width="5" height="22" fill="#000"/>
<rect x="176" y="450" width="3" height="20" fill="#fff"/>
<rect x="185" y="448" width="1" height="8" fill="#000"/>
<rect x="185" y="462" width="1" height="6" fill="#000"/>
<rect x="183" y="456" width="5" height="6" fill="#000"/>
<rect x="184" y="457" width="3" height="4" fill="#fff"/>
<rect x="193" y="399" width="1" height="6" fill="#000"/>
<rect x="191" y="405" width="5" height="36" fill="#000"/>
<rect x="192" y="406" width="3" height="34" fill="#fff"/>
<rect x="200" y="409" width="1" height="1" fill="#000"/>
<rect x="200" y="419" width="1" height="11" fill="#000"/>
<rect x="198" y="410" width="5" height="9" fill="#000"/>
<rect x="199" y="411" width="3" height="7" fill="#ff0000"/>
<rect x="208" y="409" width="1" height="4" fill="#000"/>
<rect x="208" y="421" width="1" height="11" fill="#000"/>
<rect x="206" y="413" width="5" height="8" fill="#000"/>
<rect x="207" y="414" width="3" height="6" fill="#fff"/>
<rect x="215" y="431" width="1" height="2" fill="#000"/>
<rect x="215" y="453" width="1" height="2" fill="#000"/>
<rect x="213" y="433" width="5" height="20" fill="#000"/>
<rect x="214" y="434" width="3" height="18" fill="#ff0000"/>
<rect x="223" y="464" width="1" height="2" fill="#000"/>
<rect x="223" y="467" width="1" height="8" fill="#000"/>
<rect x="221" y="466" width="5" height="1" fill="#000"/>
<rect x="230" y="465" width="1" height="4" fill="#000"/>
<rect x="230" y="489" width="1" height="3" fill="#000"/>
<rect x="228" y="469" width="5" height="20" fill="#000"/>
<rect x="229" y="470" width="3" height="18" fill="#ff0000"/>
<rect x="238" y="477" width="1" height="6" fill="#000"/>
<rect x="238" y="487" width="1" height="3" fill="#000"/>
<rect x="236" y="483" width="5" height="4" fill="#000"/>
<rect x="237" y="484" width="3" height="2" fill="#fff"/>
<rect x="245" y="479" width="1" height="4" fill="#000"/>
<rect x="245" y="490" width="1" height="16" fill="#000"/>
<rect x="243" y="483" width="5" height="7" fill="#000"/>
<rect x="244" y="484" width="3" height="5" fill="#fff"/>
<rect x="253" y="490" width="1" height="4" fill="#000"/>
<rect x="253" y="510" width="1" height="2" fill="#000"/>
<rect x="251" y="494" width="5" height="16" fill="#000"/>
<rect x="252" y="495" width="3" height="14" fill="#ff0000"/>
<rect x="260" y="501" width="1" height="12" fill="#000"/>
<rect x="260" y="542" width="1" height="1" fill="#000"/>
<rect x="258" y="513" width="5" height="29" fill="#000"/>
<rect x="259" y="514" width="3" height="27" fill="#ff0000"/>
<rect x="268" y="552" width="1" height="12" fill="#000"/>
<rect x="266" y="538" width="5" height="14" fill="#000"/>
<rect x="267" y="539" width="3" height="12" fill="#ff0000"/>
<rect x="276" y="538" width="1" height="2" fill="#000"/>
<rect x="276" y="543" width="1" height="21" fill="#000"/>
<rect x="274" y="540" width="5" height="3" fill="#000"/>
<rect x="275" y="541" width="3" height="1" fill="#ff0000"/>
<rect x="283" y="539" width="1" height="14" fill="#000"/>
<rect x="281" y="529" width="5" height="10" fill="#000"/>
<rect x="282" y="530" width="3" height="8" fill="#fff"/>
<rect x="291" y="523" width="1" height="2" fill="#000"/>
<rect x="291" y="539" width="1" height="13" fill="#000"/>
<rect x="289" y="525" width="5" height="14" fill="#000"/>
<rect x="290" y="526" width="3" height="12" fill="#fff"/>
<rect x="298" y="530" width="1" height="12" fill="#000"/>
<rect x="296" y="527" width="5" height="3" fill="#000"/>
<rect x="297" y="528" width="3" height="1" fill="#fff"/>
<rect x="306" y="480" width="1" height="23" fill="#000"/>
<rect x="306" y="517" width="1" height="1" fill="#000"/>
<rect x="304" y="503" width="5" height="14" fill="#000"/>
<rect x="305" y="504" width="3" height="12" fill="#fff"/>
<rect x="313" y="494" width="1" height="3" fill="#000"/>
<rect x="313" y="498" width="1" height="13" fill="#000"/>
<rect x="311" y="497" width="5" height="1" fill="#000"/>
<rect x="321" y="496" width="1" height="2" fill="#000"/>
<rect x="321" y="525" width="1" height="3" fill="#000"/>
<rect x="319" y="498" width="5" height="27" fill="#000"/>
<rect x="320" y="499" width="3" height="25" fill="#ff0000"/>
<rect x="328" y="507" width="1" height="10" fill="#000"/>
<rect x="328" y="520" width="1" height="4" fill="#000"/>
<rect x="326" y="517" width="5" height="3" fill="#000"/>
<rect x="327" y="518" width="3" height="1" fill="#ff0000"/>
<rect x="336" y="533" width="1" height="13" fill="#000"/>
<rect x="334" y="526" width="5" height="7" fill="#000"/>
<rect x="335" y="527" width="3" height="5" fill="#ff0000"/>
<rect x="343" y="509" width="1" height="8" fill="#000"/>
<rect x="343" y="520" width="1" height="6" fill="#000"/>
<rect x="341" y="517" width="5" height="3" fill="#000"/>
<rect x="342" y="518" width="3" height="1" fill="#fff"/>
<rect x="351" y="509" width="1" height="17" fill="#000"/>
<rect x="351" y="535" width="1" height="4" fill="#000"/>
<rect x="349" y="526" width="5" height="9" fill="#000"/>
<rect x="350" y="527" width="3" height="7" fill="#ff0000"/>
<rect x="358" y="546" width="1" height="2" fill="#000"/>
<rect x="356" y="548" width="5" height="15" fill="#000"/>
<rect x="357" y="549" width="3" height="13" fill="#fff"/>
<rect x="364" y="544" width="5" height="8" fill="#000"/>
<rect x="365" y="545" width="3" height="6" fill="#ff0000"/>
<rect x="373" y="545" width="1" height="5" fill="#000"/>
<rect x="373" y="555" width="1" height="3" fill="#000"/>
<rect x="371" y="550" width="5" height="5" fill="#000"/>
<rect x="372" y="551" width="3" height="3" fill="#ff0000"/>
<rect x="381" y="511" width="1" height="3" fill="#000"/>
<rect x="381" y="546" width="1" height="2" fill="#000"/>
<rect x="379" y="514" width="5" height="32" fill="#000"/>
<rect x="380" y="515" width="3" height="30" fill="#fff"/>
<rect x="389" y="478" width="1" height="7" fill="#000"/>
<rect x="387" y="485" width="5" height="22" fill="#000"/>
<rect x="388" y="486" width="3" height="20" fill="#fff"/>
<rect x="396" y="475" width="1" height="5" fill="#000"/>
<rect x="396" y="487" width="1" height="4" fill="#000"/>
<rect x="394" y="480" width="5" height="7" fill="#000"/>
<rect x="395" y="481" width="3" height="5" fill="#ff0000"/>
<rect x="404" y="468" width="1" height="7" fill="#000"/>
<rect x="404" y="489" width="1" height="2" fill="#000"/>
<rect x="402" y="475" width="5" height="14" fill="#000"/>
<rect x="403" y="476" width="3" height="12" fill="#ff0000"/>
<rect x="411" y="477" width="1" height="12" fill="#000"/>
<rect x="411" y="492" width="1" height="6" fill="#000"/>
<rect x="409" y="489" width="5" height="3" fill="#000"/>
<rect x="410" y="490" width="3" height="1" fill="#fff"/>
<rect x="417" y="484" width="5" height="29" fill="#000"/>
<rect x="418" y="485" width="3" height="27" fill="#ff0000"/>
<rect x="426" y="466" width="1" height="4" fill="#000"/>
<rect x="424" y="470" width="5" height="38" fill="#000"/>
<rect x="425" y="471" width="3" height="36" fill="#fff"/>
<rect x="434" y="448" width="1" height="25" fill="#000"/>
<rect x="434" y="474" width="1" height="4" fill="#000"/>
<rect x="432" y="473" width="5" height="1" fill="#000"/>
<rect x="441" y="416" width="1" height="7" fill="#000"/>
<rect x="441" y="426" width="1" height="13" fill="#000"/>
<rect x="439" y="423" width="5" height="3" fill="#000"/>
<rect x="440" y="424" width="3" height="1" fill="#ff0000"/>
<rect x="449" y="466" width="1" height="2" fill="#000"/>
<rect x="447" y="447" width="5" height="19" fill="#000"/>
<rect x="448" y="448" width="3" height="17" fill="#ff0000"/>
<rect x="456" y="466" width="1" height="2" fill="#000"/>
<rect x="454" y="439" width="5" height="27" fill="#000"/>
<rect x="455" y="440" width="3" height="25" fill="#fff"/>
<rect x="464" y="458" width="1" height="6" fill="#000"/>
<rect x="462" y="449" width="5" height="9" fill="#000"/>
<rect x="463" y="450" width="3" height="7" fill="#fff"/>
<rect x="472" y="431" width="1" height="21" fill="#000"/>
<rect x="472" y="454" width="1" height="6" fill="#000"/>
<rect x="470" y="452" width="5" height="2" fill="#000"/>
<rect x="479" y="438" width="1" height="1" fill="#000"/>
<rect x="477" y="416" width="5" height="22" fill="#000"/>
<rect x="478" y="417" width="3" height="20" fill="#ff0000"/>
<rect x="487" y="440" width="1" height="6" fill="#000"/>
<rect x="487" y="451" width="1" height="3" fill="#000"/>
<rect x="485" y="446" width="5" height="5" fill="#000"/>
<rect x="486" y="447" width="3" height="3" fill="#ff0000"/>
<rect x="494" y="483" width="1" height="5" fill="#000"/>
<rect x="492" y="462" width="5" height="21" fill="#000"/>
<rect x="493" y="463" width="3" height="19" fill="#ff0000"/>
<rect x="502" y="460" width="1" height="3" fill="#000"/>
<rect x="502" y="465" width="1" height="3" fill="#000"/>
<rect x="500" y="463" width="5" height="2" fill="#000"/>
<rect x="509" y="477" width="1" height="11" fill="#000"/>
<rect x="507" y="470" width="5" height="7" fill="#000"/>
<rect x="508" y="471" width="3" height="5" fill="#ff0000"/>
<rect x="517" y="479" width="1" height="1" fill="#000"/>
<rect x="517" y="488" width="1" height="13" fill="#000"/>
<rect x="515" y="480" width="5" height="8" fill="#000"/>
<rect x="516" y="481" width="3" height="6" fill="#ff0000"/>
<rect x="524" y="472" width="1" height="5" fill="#000"/>
<rect x="524" y="479" width="1" height="7" fill="#000"/>
<rect x="522" y="477" width="5" height="2" fill="#000"/>
<rect x="532" y="490" width="1" height="2" fill="#000"/>
<rect x="532" y="500" width="1" height="6" fill="#000"/>
<rect x="530" y="492" width="5" height="8" fill="#000"/>
<rect x="531" y="493" width="3" height="6" fill="#fff"/>
<rect x="539" y="494" width="1" height="1" fill="#000"/>
<rect x="539" y="505" width="1" height="8" fill="#000"/>
<rect x="537" y="495" width="5" height="10" fill="#000"/>
<rect x="538" y="496" width="3" height="8" fill="#ff0000"/>
<rect x="547" y="500" width="1" height="4" fill="#000"/>
<rect x="545" y="504" width="5" height="12" fill="#000"/>
<rect x="546" y="505" width="3" height="10" fill="#fff"/>
<rect x="554" y="499" width="1" height="1" fill="#000"/>
<rect x="554" y="504" width="1" height="5" fill="#000"/>
<rect x="552" y="500" width="5" height="4" fill="#000"/>
<rect x="553" y="501" width="3" height="2" fill="#ff0000"/>
<rect x="562" y="471" width="1" height="6" fill="#000"/>
<rect x="560" y="477" width="5" height="25" fill="#000"/>
<rect x="561" y="478" width="3" height="23" fill="#fff"/>
<rect x="570" y="482" width="1" height="4" fill="#000"/>
<rect x="570" y="492" width="1" height="10" fill="#000"/>
<rect x="568" y="486" width="5" height="6" fill="#000"/>
<rect x="569" y="487" width="3" height="4" fill="#ff0000"/>
<rect x="577" y="484" width="1" height="7" fill="#000"/>
<rect x="577" y="501" width="1" height="2" fill="#000"/>
<rect x="575" y="491" width="5" height="10" fill="#000"/>
<rect x="576" y="492" width="3" height="8" fill="#ff0000"/>
<rect x="585" y="527" width="1" height="2" fill="#000"/>
<rect x="583" y="500" width="5" height="27" fill="#000"/>
<rect x="584" y="501" width="3" height="25" fill="#ff0000"/>
<rect x="592" y="533" width="1" height="1" fill="#000"/>
<rect x="592" y="539" width="1" height="4" fill="#000"/>
<rect x="590" y="534" width="5" height="5" fill="#000"/>
<rect x="591" y="535" width="3" height="3" fill="#ff0000"/>
<rect x="600" y="536" width="1" height="5" fill="#000"/>
<rect x="598" y="541" width="5" height="6" fill="#000"/>
<rect x="599" y="542" width="3" height="4" fill="#fff"/>
<rect x="607" y="536" width="1" height="1" fill="#000"/>
<rect x="607" y="542" width="1" height="18" fill="#000"/>
<rect x="605" y="537" width="5" height="5" fill="#000"/>
<rect x="606" y="538" width="3" height="3" fill="#ff0000"/>
<rect x="615" y="559" width="1" height="1" fill="#000"/>
<rect x="613" y="517" width="5" height="42" fill="#000"/>
<rect x="614" y="518" width="3" height="40" fill="#ff0000"/>
<rect x="622" y="547" width="1" height="2" fill="#000"/>
<rect x="622" y="558" width="1" height="2" fill="#000"/>
<rect x="620" y="549" width="5" height="9" fill="#000"/>
<rect x="621" y="550" width="3" height="7" fill="#ff0000"/>
<rect x="630" y="520" width="1" height="3" fill="#000"/>
<rect x="630" y="538" width="1" height="7" fill="#000"/>
<rect x="628" y="523" width="5" height="15" fill="#000"/>
<rect x="629" y="524" width="3" height="13" fill="#fff"/>
<rect x="637" y="544" width="1" height="7" fill="#000"/>
<rect x="635" y="500" width="5" height="44" fill="#000"/>
<rect x="636" y="501" width="3" height="42" fill="#ff0000"/>
<rect x="645" y="550" width="1" height="1" fill="#000"/>
<rect x="645" y="561" width="1" height="6" fill="#000"/>
<rect x="643" y="551" width="5" height="10" fill="#000"/>
<rect x="644" y="552" width="3" height="8" fill="#ff0000"/>
<rect x="652" y="543" width="1" height="3" fill="#000"/>
<rect x="652" y="551" width="1" height="17" fill="#000"/>
<rect x="650" y="546" width="5" height="5" fill="#000"/>
<rect x="651" y="547" width="3" height="3" fill="#ff0000"/>
<rect x="660" y="541" width="1" height="1" fill="#000"/>
<rect x="660" y="562" width="1" height="8" fill="#000"/>
<rect x="658" y="542" width="5" height="20" fill="#000"/>
<rect x="659" y="543" width="3" height="18" fill="#ff0000"/>
<rect x="667" y="556" width="1" height="7" fill="#000"/>
<rect x="667" y="565" width="1" height="14" fill="#000"/>
<rect x="665" y="563" width="5" height="2" fill="#000"/>
<rect x="675" y="538" width="1" height="2" fill="#000"/>
<rect x="675" y="560" width="1" height="6" fill="#000"/>
<rect x="673" y="540" width="5" height="20" fill="#000"/>
<rect x="674" y="541" width="3" height="18" fill="#fff"/>
<rect x="683" y="534" width="1" height="2" fill="#000"/>
<rect x="683" y="550" width="1" height="12" fill="#000"/>
<rect x="681" y="536" width="5" height="14" fill="#000"/>
<rect x="682" y="537" width="3" height="12" fill="#ff0000"/>
<rect x="690" y="557" width="1" height="7" fill="#000"/>
<rect x="690" y="566" width="1" height="10" fill="#000"/>
<rect x="688" y="564" width="5" height="2" fill="#000"/>
<rect x="698" y="569" width="1" height="4" fill="#000"/>
<rect x="696" y="547" width="5" height="22" fill="#000"/>
<rect x="697" y="548" width="3" height="20" fill="#ff0000"/>
<rect x="705" y="557" width="1" height="2" fill="#000"/>
<rect x="705" y="573" width="1" height="12" fill="#000"/>
<rect x="703" y="559" width="5" height="14" fill="#000"/>
<rect x="704" y="560" width="3" height="12" fill="#ff0000"/>
<rect x="713" y="578" width="1" height="26" fill="#000"/>
<rect x="711" y="572" width="5" height="6" fill="#000"/>
<rect x="712" y="573" width="3" height="4" fill="#ff0000"/>
<rect x="720" y="572" width="1" height="16" fill="#000"/>
<rect x="718" y="564" width="5" height="8" fill="#000"/>
<rect x="719" y="565" width="3" height="6" fill="#fff"/>
<rect x="728" y="553" width="1" height="1" fill="#000"/>
<rect x="728" y="565" width="1" height="35" fill="#000"/>
<rect x="726" y="554" width="5" height="11" fill="#000"/>
<rect x="727" y="555" width="3" height="9" fill="#ff0000"/>
<rect x="734" y="556" width="5" height="10" fill="#000"/>
<rect x="735" y="557" width="3" height="8" fill="#ff0000"/>
<rect x="743" y="566" width="1" height="5" fill="#000"/>
<rect x="741" y="556" width="5" height="10" fill="#000"/>
<rect x="742" y="557" width="3" height="8" fill="#ff0000"/>
<rect x="750" y="533" width="1" height="4" fill="#000"/>
<rect x="750" y="569" width="1" height="1" fill="#000"/>
<rect x="748" y="537" width="5" height="32" fill="#000"/>
<rect x="749" y="538" width="3" height="30" fill="#fff"/>
<rect x="758" y="528" width="1" height="7" fill="#000"/>
<rect x="758" y="538" width="1" height="10" fill="#000"/>
<rect x="756" y="535" width="5" height="3" fill="#000"/>
<rect x="757" y="536" width="3" height="1" fill="#fff"/>
<rect x="765" y="517" width="1" height="5" fill="#000"/>
<rect x="765" y="552" width="1" height="1" fill="#000"/>
<rect x="763" y="522" width="5" height="30" fill="#000"/>
<rect x="764" y="523" width="3" height="28" fill="#ff0000"/>
<rect x="773" y="529" width="1" height="11" fill="#000"/>
<rect x="773" y="545" width="1" height="6" fill="#000"/>
<rect x="771" y="540" width="5" height="5" fill="#000"/>
<rect x="772" y="541" width="3" height="3" fill="#ff0000"/>
<rect x="781" y="525" width="1" height="2" fill="#000"/>
<rect x="781" y="531" width="1" height="10" fill="#000"/>
<rect x="779" y="527" width="5" height="4" fill="#000"/>
<rect x="780" y="528" width="3" height="2" fill="#fff"/>
<rect x="788" y="538" width="1" height="7" fill="#000"/>
<rect x="786" y="531" width="5" height="7" fill="#000"/>
<rect x="787" y="532" width="3" height="5" fill="#ff0000"/>
<rect x="796" y="518" width="1" height="7" fill="#000"/>
<rect x="796" y="541" width="1" height="1" fill="#000"/>
<rect x="794" y="525" width="5" height="16" fill="#000"/>
<rect x="795" y="526" width="3" height="14" fill="#ff0000"/>
<rect x="803" y="527" width="1" height="10" fill="#000"/>
<rect x="803" y="539" width="1" height="4" fill="#000"/>
<rect x="801" y="537" width="5" height="2" fill="#000"/>
<rect x="811" y="553" width="1" height="20" fill="#000"/>
<rect x="809" y="537" width="5" height="16" fill="#000"/>
<rect x="810" y="538" width="3" height="14" fill="#ff0000"/>
<rect x="818" y="547" width="1" height="1" fill="#000"/>
<rect x="816" y="544" width="5" height="3" fill="#000"/>
<rect x="817" y="545" width="3" height="1" fill="#fff"/>
<rect x="826" y="535" width="1" height="4" fill="#000"/>
<rect x="824" y="539" width="5" height="13" fill="#000"/>
<rect x="825" y="540" width="3" height="11" fill="#ff0000"/>
<rect x="833" y="557" width="1" height="2" fill="#000"/>
<rect x="833" y="563" width="1" height="14" fill="#000"/>
<rect x="831" y="559" width="5" height="4" fill="#000"/>
<rect x="832" y="560" width="3" height="2" fill="#fff"/>
<rect x="841" y="528" width="1" height="6" fill="#000"/>
<rect x="841" y="537" width="1" height="7" fill="#000"/>
<rect x="839" y="534" width="5" height="3" fill="#000"/>
<rect x="840" y="535" width="3" height="1" fill="#fff"/>
<rect x="846" y="528" width="5" height="5" fill="#000"/>
<rect x="847" y="529" width="3" height="3" fill="#fff"/>
<rect x="856" y="509" width="1" height="7" fill="#000"/>
<rect x="856" y="523" width="1" height="9" fill="#000"/>
<rect x="854" y="516" width="5" height="7" fill="#000"/>
<rect x="855" y="517" width="3" height="5" fill="#fff"/>
<rect x="863" y="530" width="1" height="4" fill="#000"/>
<rect x="861" y="517" width="5" height="13" fill="#000"/>
<rect x="862" y="518" width="3" height="11" fill="#ff0000"/>
<rect x="871" y="528" width="1" height="2" fill="#000"/>
<rect x="871" y="535" width="1" height="22" fill="#000"/>
<rect x="869" y="530" width="5" height="5" fill="#000"/>
<rect x="870" y="531" width="3" height="3" fill="#fff"/>
<rect x="879" y="553" width="1" height="2" fill="#000"/>
<rect x="877" y="536" width="5" height="17" fill="#000"/>
<rect x="878" y="537" width="3" height="15" fill="#ff0000"/>
<rect x="886" y="545" width="1" height="4" fill="#000"/>
<rect x="886" y="551" width="1" height="13" fill="#000"/>
<rect x="884" y="549" width="5" height="2" fill="#000"/>
<rect x="894" y="532" width="1" height="13" fill="#000"/>
<rect x="892" y="545" width="5" height="4" fill="#000"/>
<rect x="893" y="546" width="3" height="2" fill="#fff"/>
<rect x="901" y="546" width="1" height="5" fill="#000"/>
<rect x="901" y="560" width="1" height="3" fill="#000"/>
<rect x="899" y="551" width="5" height="9" fill="#000"/>
<rect x="900" y="552" width="3" height="7" fill="#ff0000"/>
<rect x="909" y="533" width="1" height="9" fill="#000"/>
<rect x="907" y="542" width="5" height="7" fill="#000"/>
<rect x="908" y="543" width="3" height="5" fill="#fff"/>
<path d="M333 412.5h2M742 531.5h4M511 418.5h2M738 529.5h2M752 529.5h18M5 492.5h4M71 492.5h2M449 443.5h2M445 445.5h2M658 464.5h2M650 460.5h2M102 519.5h2M898 519.5h8M170 434.5h2M611 434.5h3M648 459.5h2M482 415.5h24M220 379.5h16M468 427.5h2M524 427.5h26M571 427.5h10M588 427.5h2M32 488.5h12M54 488.5h8M700 488.5h2M264 393.5h35M854 516.5h27M881 517.5h9M9 491.5h7M69 491.5h2M652 461.5h2M329 410.5h2M470 426.5h2M550 426.5h21M581 426.5h3M586 426.5h2M22 489.5h10M62 489.5h5M702 489.5h2M116 524.5h5M126 524.5h4M728 524.5h2M806 524.5h9M820 524.5h4M834 524.5h3M667 470.5h2M377 482.5h5M402 482.5h2M684 482.5h3M654 462.5h2M646 458.5h2M637 455.5h2M608 433.5h3M78 497.5h2M696 486.5h2M109 522.5h3M841 522.5h5M121 525.5h5M798 525.5h8M824 525.5h10M513 419.5h2M506 416.5h2M104 520.5h3M849 520.5h2M906 520.5h4M462 430.5h2M593 430.5h8M16 490.5h6M67 490.5h2M112 523.5h4M130 523.5h2M815 523.5h5M837 523.5h4M166 436.5h2M616 436.5h2M409 478.5h11M678 478.5h2M890 518.5h8M382 483.5h15M687 483.5h4M733 527.5h2M774 527.5h19M442 447.5h2M472 425.5h2M521 425.5h2M584 425.5h2M731 526.5h2M793 526.5h5M625 442.5h2M250 389.5h2M310 403.5h2M252 390.5h2M466 428.5h2M430 468.5h2M254 391.5h2M183 421.5h2M735 528.5h3M770 528.5h4M643 457.5h3M674 475.5h2M256 392.5h8M73 493.5h2M322 407.5h2M740 530.5h2M746 530.5h6M312 404.5h3M168 435.5h2M614 435.5h2M406 479.5h3M601 431.5h3M660 465.5h2M44 487.5h10M698 487.5h2M459 432.5h2M604 432.5h4M663 467.5h2M245 386.5h2M620 438.5h2M306 400.5h2M447 444.5h2M421 476.5h2M107 521.5h2M846 521.5h3M216 381.5h2M397 484.5h4M691 484.5h3M464 429.5h2M591 429.5h2M375 481.5h2M682 481.5h2M212 383.5h2M324 408.5h2M656 463.5h2M164 437.5h2M618 437.5h2M210 384.5h2M242 384.5h2M639 456.5h4M315 405.5h4M517 422.5h2M319 406.5h3M694 485.5h2M671 473.5h2M85 503.5h2M218 380.5h2M236 380.5h2M331 411.5h2M326 409.5h3M214 382.5h2M239 382.5h2M301 396.5h2M508 417.5h3M248 388.5h2M373 480.5h2M363.5 466v1M304.5 398v1M629.5 445v1M359.5 459v2M190.5 412v1M202.5 395v1M356.5 450v4M138.5 505v3M150.5 470v4M435.5 462v2M209.5 385v2M154.5 458v2M438.5 455v3M355.5 447v3M458.5 433v1M197.5 401v1M718.5 509v2M141.5 497v2M726.5 521v2M186.5 419v1M481.5 416v1M133.5 520v2M722.5 515v2M137.5 508v3M300.5 395v1M84.5 502v1M455.5 436v1M153.5 460v2M177.5 427v1M144.5 488v3M523.5 426v1M707.5 494v2M670.5 472v1M172.5 433v1M711.5 500v1M161.5 442v2M299.5 394v1M725.5 520v1M336.5 414v2M180.5 424v1M344.5 427v2M365.5 469v1M160.5 444v2M337.5 416v1M669.5 471v1M358.5 457v2M366.5 470v1M369.5 475v1M632.5 448v2M136.5 511v3M208.5 387v1M706.5 493v1M193.5 406v2M140.5 499v3M152.5 462v4M624.5 441v1M90.5 507v1M710.5 498v2M132.5 522v1M200.5 397v2M203.5 393v2M91.5 508v1M157.5 451v3M135.5 514v3M724.5 518v2M139.5 502v3M434.5 464v2M97.5 514v1M665.5 468v1M364.5 467v2M98.5 515v1M357.5 454v3M196.5 402v2M480.5 417v2M241.5 383v1M457.5 434v1M477.5 421v1M354.5 444v3M452.5 440v1M441.5 448v2M368.5 473v2M339.5 418v2M590.5 428v1M343.5 425v2M151.5 466v4M148.5 477v3M305.5 399v1M199.5 399v1M134.5 517v3M425.5 473v1M156.5 454v2M440.5 450v3M709.5 497v1M75.5 494v1M147.5 480v3M713.5 502v2M852.5 518v1M727.5 523v1M353.5 442v2M179.5 425v1M346.5 430v2M367.5 471v2M475.5 423v1M630.5 446v1M347.5 432v1M350.5 436v2M631.5 447v1M371.5 477v2M238.5 381v1M159.5 446v3M143.5 491v3M712.5 501v1M93.5 510v1M401.5 483v1M352.5 440v2M342.5 423v2M207.5 388v1M345.5 429v1M405.5 480v1M146.5 483v3M158.5 449v2M338.5 417v1M205.5 391v1M163.5 438v2M80.5 498v1M716.5 506v2M189.5 413v2M92.5 509v1M427.5 471v1M81.5 499v1M420.5 477v1M341.5 421v2M349.5 434v2M520.5 424v1M370.5 476v1M633.5 450v1M99.5 516v1M174.5 430v1M142.5 494v3M424.5 474v1M479.5 419v1M451.5 441v2M149.5 474v3M519.5 423v1M715.5 505v1M666.5 469v1M439.5 453v2M340.5 420v1M348.5 433v1M247.5 387v1M181.5 423v1M76.5 495v1M185.5 420v1M851.5 519v1M461.5 431v1M77.5 496v1M145.5 486v2M454.5 437v1M474.5 424v1M351.5 438v2M173.5 431v2M162.5 440v2M201.5 396v1M680.5 479v1M636.5 454v1M515.5 420v1M681.5 480v1M87.5 504v1M662.5 466v1M714.5 504v1M192.5 408v2M94.5 511v1M204.5 392v1M372.5 479v1M635.5 452v2M303.5 397v1M188.5 415v2M101.5 518v1M429.5 469v1M433.5 466v1M673.5 474v1M717.5 508v1M176.5 428v1M426.5 472v1M361.5 463v2M676.5 476v1M853.5 517v1M82.5 500v1M437.5 458v2M628.5 444v1M83.5 501v1M634.5 451v1M453.5 438v2M191.5 410v2M720.5 512v2M721.5 514v1M195.5 404v1M360.5 461v2M198.5 400v1M627.5 443v1M187.5 417v2M456.5 435v1M100.5 517v1M476.5 422v1M705.5 491v2M206.5 389v2M623.5 440v1M89.5 506v1M436.5 460v2M155.5 456v2M719.5 511v1M244.5 385v1M178.5 426v1M428.5 470v1M516.5 421v1M622.5 439v1M308.5 401v1M309.5 402v1M404.5 481v1M175.5 429v1M444.5 446v1M730.5 525v1M335.5 413v1M704.5 490v1M432.5 467v1M88.5 505v1M708.5 496v1M182.5 422v1M95.5 512v1M723.5 517v1M194.5 405v1M423.5 475v1M478.5 420v1M362.5 465v1M677.5 477v1M96.5 513v1" fill="none" stroke="#000" stroke-width="1"/>
<path d="M16 581.5h2M302 581.5h8M462 581.5h3M656 581.5h2M812 581.5h13M844 581.5h6M24 587.5h2M92 587.5h2M113 587.5h6M322 587.5h2M346 587.5h2M668 587.5h3M680 587.5h3M97 585.5h4M106 585.5h4M318 585.5h2M350 585.5h2M664 585.5h2M724 585.5h2M261 572.5h2M362 572.5h2M486 572.5h2M622 572.5h2M868 572.5h2M184 634.5h2M188 634.5h4M212 634.5h2M164 647.5h2M9 578.5h2M453 578.5h2M473 578.5h4M649 578.5h4M856 578.5h2M862 575.5h2M274 565.5h10M416 565.5h2M432 565.5h2M890 565.5h4M900 565.5h10M704 597.5h4M314 583.5h2M660 583.5h2M728 583.5h3M741 583.5h4M781 583.5h19M418 564.5h14M894 564.5h3M28 589.5h2M74 589.5h16M326 589.5h2M686 589.5h3M310 582.5h4M658 582.5h2M731 582.5h10M800 582.5h12M825 582.5h19M41 592.5h9M332 592.5h2M694 592.5h2M376 569.5h13M402 569.5h9M491 569.5h2M630 569.5h8M877 569.5h3M30 590.5h4M70 590.5h4M328 590.5h2M342 590.5h2M689 590.5h3M265 570.5h2M369 570.5h7M489 570.5h2M626 570.5h4M638 570.5h2M874 570.5h3M272 566.5h2M434 566.5h2M496 566.5h2M887 566.5h3M360 573.5h2M866 573.5h2M544 522.5h3M563 522.5h2M576 522.5h2M551 524.5h9M34 591.5h7M50 591.5h20M330 591.5h2M692 591.5h2M26 588.5h2M90 588.5h2M119 588.5h14M324 588.5h2M683 588.5h3M20 584.5h2M101 584.5h5M316 584.5h2M662 584.5h2M726 584.5h2M745 584.5h36M263 571.5h2M364 571.5h5M624 571.5h2M870 571.5h4M94 586.5h3M110 586.5h3M320 586.5h2M348 586.5h2M666 586.5h2M671 586.5h9M722 586.5h2M532 516.5h2M14 580.5h2M298 580.5h4M458 580.5h4M465 580.5h4M850 580.5h4M700 595.5h2M711 595.5h2M5 576.5h2M441 576.5h10M480 576.5h2M860 576.5h2M528 518.5h2M536 518.5h2M268 568.5h2M389 568.5h13M411 568.5h2M493 568.5h2M880 568.5h4M169 644.5h2M542 521.5h2M565 521.5h2M573 521.5h3M181 636.5h2M195 636.5h2M207 636.5h2M334 593.5h2M338 593.5h2M696 593.5h2M714 593.5h2M538 519.5h2M569 519.5h2M547 523.5h4M560 523.5h3M702 596.5h2M708 596.5h3M530 517.5h2M534 517.5h2M11 579.5h3M455 579.5h3M469 579.5h4M653 579.5h2M854 579.5h2M7 577.5h2M451 577.5h2M477 577.5h3M645 577.5h4M858 577.5h2M173 641.5h2M166 646.5h2M186 633.5h2M214 633.5h2M192 635.5h3M209 635.5h3M358 574.5h2M483 574.5h2M864 574.5h2M199 638.5h4M179 637.5h2M197 637.5h2M203 637.5h4M525 520.5h2M540 520.5h2M567 520.5h2M571 520.5h2M162 648.5h2M897 563.5h2M270 567.5h2M413 567.5h2M884 567.5h3M589 533.5h2M336 594.5h2M698 594.5h2M176 639.5h2M585 530.5h2M141.5 608v2M219.5 629v1M245.5 593v1M596.5 540v1M641.5 572v1M19.5 583v1M156.5 634v3M500.5 563v1M144.5 613v2M257.5 576v1M643.5 575v1M293.5 575v1M520.5 529v2M482.5 575v1M617.5 564v2M498.5 565v1M289.5 571v1M284.5 566v1M598.5 542v1M353.5 582v2M614.5 560v1M508.5 551v2M608.5 552v2M344.5 589v1M135.5 594v3M345.5 588v1M154.5 630v2M142.5 610v2M285.5 567v1M613.5 558v2M290.5 572v1M216.5 632v1M231.5 613v2M217.5 631v1M517.5 535v2M518.5 533v2M609.5 554v1M618.5 566v1M603.5 547v1M439.5 572v2M524.5 521v2M255.5 578v1M522.5 525v2M582.5 527v1M599.5 543v1M133.5 590v2M139.5 604v2M251.5 583v2M640.5 571v1M291.5 573v1M583.5 528v1M600.5 544v1M594.5 537v2M610.5 555v1M720.5 588v1M287.5 569v1M229.5 616v2M161.5 645v2M155.5 632v2M579.5 524v1M514.5 541v1M134.5 592v2M516.5 537v2M719.5 589v1M162.5 647v1M612.5 557v1M591.5 534v1M357.5 575v2M584.5 529v1M152.5 626v2M601.5 545v1M513.5 542v2M159.5 641v2M221.5 626v1M140.5 606v2M249.5 586v2M247.5 589v2M288.5 570v1M506.5 554v2M580.5 525v1M158.5 639v2M597.5 541v1M642.5 573v2M607.5 551v1M145.5 615v1M616.5 562v2M437.5 569v2M171.5 643v1M220.5 627v2M294.5 576v1M246.5 591v2M248.5 588v1M440.5 574v2M581.5 526v1M354.5 581v1M150.5 622v2M138.5 602v2M592.5 535v1M621.5 570v2M510.5 547v2M355.5 579v2M183.5 635v1M153.5 628v2M149.5 620v2M175.5 640v1M519.5 531v2M504.5 558v2M233.5 611v1M235.5 608v1M236.5 606v2M254.5 579v2M511.5 545v2M146.5 616v2M234.5 609v2M157.5 637v2M509.5 549v2M438.5 571v1M295.5 577v1M502.5 561v1M721.5 587v1M604.5 548v1M230.5 615v1M232.5 612v1M132.5 589v1M260.5 573v1M242.5 598v2M296.5 578v1M244.5 594v2M136.5 597v2M226.5 620v2M605.5 549v1M22.5 585v1M292.5 574v1M243.5 596v2M515.5 539v2M160.5 643v2M655.5 580v1M143.5 612v1M505.5 556v2M507.5 553v1M713.5 594v1M259.5 574v1M619.5 567v2M137.5 599v3M606.5 550v1M151.5 624v2M23.5 586v1M717.5 591v1M521.5 527v2M523.5 523v2M602.5 546v1M615.5 561v1M436.5 567v2M356.5 577v2M239.5 602v2M250.5 585v1M620.5 569v1M503.5 560v1M415.5 566v1M593.5 536v1M485.5 573v1M178.5 638v1M18.5 582v1M224.5 623v1M488.5 571v1M168.5 645v1M222.5 625v1M495.5 567v1M587.5 531v1M267.5 569v1M527.5 519v1M297.5 579v1M258.5 575v1M341.5 591v1M218.5 630v1M172.5 642v1M499.5 564v1M588.5 532v1M718.5 590v1M256.5 577v1M340.5 592v1M644.5 576v1M147.5 618v1M716.5 592v1M252.5 582v1M352.5 584v1M253.5 581v1M899.5 564v1M148.5 619v1M228.5 618v1M238.5 604v1M240.5 601v1M286.5 568v1M241.5 600v1M578.5 523v1M595.5 539v1M225.5 622v1M227.5 619v1M237.5 605v1M512.5 544v1M611.5 556v1M223.5 624v1M501.5 562v1" fill="none" stroke="#000" stroke-width="1"/>
<path d="M244 474.5h3M293 474.5h2M311 483.5h2M496 483.5h2M383 524.5h2M388 524.5h3M394 524.5h3M814 552.5h3M820 552.5h3M838 552.5h2M766 555.5h3M772 555.5h3M778 555.5h3M784 555.5h3M305 480.5h2M502 480.5h3M592 480.5h2M437 509.5h2M641 509.5h2M743 556.5h2M748 556.5h3M754 556.5h3M760 556.5h3M256 471.5h3M280 471.5h3M286 471.5h3M526 471.5h2M544 471.5h3M562 471.5h3M568 471.5h3M574 471.5h3M370 521.5h2M406 521.5h3M34 536.5h3M40 536.5h3M46 536.5h3M64 536.5h3M694 536.5h2M251 472.5h2M556 472.5h3M76 540.5h3M892 540.5h3M442 506.5h2M466 496.5h3M112 554.5h3M118 554.5h3M124 554.5h3M130 554.5h2M736 554.5h2M790 554.5h3M623 499.5h2M605 488.5h2M215 487.5h2M322 487.5h3M485 487.5h2M514 475.5h3M868 543.5h3M23 535.5h2M28 535.5h3M52 535.5h3M58 535.5h3M365 518.5h2M418 518.5h3M100 550.5h2M844 550.5h3M107 553.5h2M731 553.5h2M796 553.5h3M802 553.5h3M808 553.5h3M826 553.5h3M832 553.5h3M136 551.5h2M724 551.5h3M634 505.5h2M262 470.5h3M268 470.5h3M274 470.5h3M532 470.5h3M538 470.5h3M227 482.5h2M424 516.5h2M653 516.5h2M712 545.5h2M862 545.5h2M221 484.5h2M599 484.5h2M448 503.5h2M88 546.5h2M508 478.5h2M4 532.5h3M682 532.5h2M676 529.5h2M412 520.5h2M659 520.5h2M670 526.5h2M10 533.5h3M16 533.5h2M520 473.5h2M551 473.5h2M580 473.5h2M688 534.5h2M376 523.5h3M400 523.5h2M664 523.5h2M70 537.5h2M460 498.5h2M706 542.5h2M874 542.5h3M881 541.5h2M886 541.5h3M898 541.5h3M904 541.5h3M700 539.5h2M454 500.5h2M611 492.5h2M238 476.5h2M430 513.5h2M299 477.5h2M587 477.5h2M646 512.5h2M94 548.5h3M718 548.5h2M851 548.5h2M628 502.5h2M316 485.5h3M490 485.5h3M856 547.5h2M329 490.5h2M479 490.5h2M473 493.5h2M616 495.5h2M648.5 513v1M204.5 494v1M150.5 541v1M202.5 496v1M714.5 546v1M192.5 504v1M472.5 494v1M148.5 543v1M149.5 542v1M214.5 488v1M426.5 515v1M190.5 506v1M132.5 553v1M432.5 512v1M196.5 501v1M90.5 547v1M738.5 555v1M840.5 551v1M142.5 548v1M742.5 555v1M210.5 490v1M226.5 483v1M184.5 511v1M450.5 502v1M610.5 491v1M702.5 540v1M233.5 479v1M484.5 488v1M522.5 472v1M234.5 478v1M456.5 499v1M582.5 474v1M240.5 475v1M232.5 480v1M708.5 543v1M550.5 472v1M342.5 498v1M353.5 507v1M168.5 525v1M173.5 521v1M328.5 489v1M354.5 508v1M586.5 476v1M498.5 482v1M172.5 522v1M156.5 535v1M696.5 537v1M359.5 513v1M850.5 549v1M720.5 549v1M360.5 514v1M106.5 552v1M630.5 503v1M348.5 503v1M510.5 477v1M652.5 515v1M658.5 519v1M672.5 527v1M138.5 550v1M690.5 535v1M858.5 546v1M220.5 485v1M82.5 542v1M402.5 522v1M864.5 544v1M292.5 473v1M174.5 520v1M180.5 515v1M358.5 512v1M346.5 501v1M684.5 533v1M640.5 508v1M178.5 517v1M179.5 516v1M167.5 526v1M166.5 527v1M22.5 534v1M304.5 479v1M72.5 538v1M155.5 536v1M528.5 470v1M636.5 506v1M154.5 537v1M310.5 482v1M209.5 491v1M160.5 531v1M622.5 498v1M208.5 492v1M83.5 543v1M730.5 552v1M336.5 494v1M594.5 481v1M880.5 542v1M250.5 473v1M197.5 500v1M198.5 499v1M84.5 544v1M203.5 495v1M186.5 509v1M298.5 476v1M666.5 524v1M143.5 547v1M144.5 546v1M444.5 505v1M436.5 510v1M185.5 510v1M618.5 496v1M191.5 505v1M347.5 502v1M18.5 534v1M598.5 483v1M478.5 491v1M414.5 519v1M604.5 487v1M382.5 523v1M162.5 529v1M372.5 522v1M340.5 496v1M102.5 551v1M334.5 492v1M335.5 493v1M161.5 530v1M364.5 517v1M341.5 497v1M678.5 530v1M462.5 497v1M352.5 506v1" fill="none" stroke="#000" stroke-width="1"/>
<line x1="1" y1="408.0" x2="966" y2="408.0" stroke="#ff0000" stroke-width="2"/>
<line x1="479" y1="414.5" x2="959" y2="414.5" stroke="#ff0000" stroke-width="1"/>
<line x1="1" y1="485.5" x2="959" y2="485.5" stroke="#ff0000" stroke-width="1"/>
<line x1="728" y1="515.0" x2="959" y2="515.0" stroke="#ff00ff" stroke-width="2"/>
<line x1="1" y1="563.5" x2="966" y2="563.5" stroke="#007800" stroke-width="1"/>
<line x1="1" y1="594.0" x2="966" y2="594.0" stroke="#006400" stroke-width="2"/>
<path d="M913 560.5h10M785 586.5h10M873 568.5h10M878 567.5h10M839 575.5h10M932 556.5h10M746 594.5h10M908 561.5h10M800 583.5h10M893 564.5h10M765 590.5h10M775 588.5h10M859 571.5h10M947 553.5h10M741 595.5h10M869 569.5h9M834 576.5h10M923 558.5h9M888 565.5h10M795 584.5h10M770 589.5h10M728 599.5h3M849 573.5h10M952 552.5h8M824 578.5h10M918 559.5h10M731 597.5h10M751 593.5h9M760 591.5h10M844 574.5h10M805 582.5h10M728 598.5h8M898 563.5h10M780 587.5h10M928 557.5h9M937 555.5h10M903 562.5h10M815 580.5h9M736 596.5h10M790 585.5h10M883 566.5h10M819 579.5h10M756 592.5h9M829 577.5h10M854 572.5h10M942 554.5h10M810 581.5h9M864 570.5h9M957 551.5h3" fill="none" stroke="#00ff00" stroke-width="1"/>
<path d="M142 541.5h4M114 534.5h4M86 527.5h4M39 515.5h4M47 517.5h4M126 537.5h4M138 540.5h4M19 510.5h4M106 532.5h4M94 529.5h4M78 525.5h4M67 522.5h4M146 542.5h2M118 535.5h4M27 512.5h4M11 508.5h4M1 505.5h2M90 528.5h4M31 513.5h4M130 538.5h4M3 506.5h4M71 523.5h4M59 520.5h4M110 533.5h4M82 526.5h4M43 516.5h4M23 511.5h4M102 531.5h4M63 521.5h4M35 514.5h4M7 507.5h4M75 524.5h3M122 536.5h4M55 519.5h4M134 539.5h4M98 530.5h4M51 518.5h4M15 509.5h4" fill="none" stroke="#ff0000" stroke-width="1"/>
<path d="M206 409.5h2M232 428.5h2M258 447.5h2M314 488.5h2M251 442.5h2M277 461.5h2M303 480.5h2M329 499.5h2M341 508.5h2M367 527.5h2M266 453.5h2M292 472.5h2M284 466.5h2M318 491.5h2M348 513.5h2M374 532.5h2M273 458.5h2M299 477.5h2M311 486.5h2M337 505.5h2M344 510.5h2M371 530.5h2M296 475.5h2M326 497.5h2M352 516.5h2M198 403.5h2M224 422.5h2M378 535.5h2M236 431.5h2M262 450.5h2M288 469.5h2M307 483.5h2M213 414.5h2M359 521.5h2M243 436.5h2M269 455.5h2M194 400.5h2M386 541.5h2M221 420.5h2M247 439.5h2M239 433.5h2M356 519.5h2M382 538.5h2M202 406.5h2M228 425.5h2M254 444.5h2M217 417.5h2M281 464.5h2M333 502.5h2M322 494.5h2M209 411.5h2M363 524.5h2M205.5 408v1M373.5 531v1M340.5 507v1M246.5 438v1M272.5 457v1M220.5 419v1M325.5 496v1M351.5 515v1M381.5 537v1M227.5 424v1M253.5 443v1M279.5 462v1M305.5 481v1M230.5 426v1M204.5 407v1M260.5 448v1M286.5 467v1M287.5 468v1M313.5 487v1M366.5 526v1M212.5 413v1M238.5 432v1M268.5 454v1M294.5 473v1M320.5 492v1M346.5 511v1M193.5 399v1M219.5 418v1M245.5 437v1M271.5 456v1M380.5 536v1M295.5 474v1M335.5 503v1M361.5 522v1M355.5 518v1M280.5 463v1M310.5 485v1M336.5 504v1M208.5 410v1M234.5 429v1M362.5 523v1M388.5 542v1M235.5 430v1M261.5 449v1M369.5 528v1M215.5 415v1M241.5 434v1M370.5 529v1M321.5 493v1M347.5 512v1M377.5 534v1M223.5 421v1M249.5 440v1M275.5 459v1M301.5 478v1M302.5 479v1M328.5 498v1M200.5 404v1M226.5 423v1M354.5 517v1M256.5 445v1M250.5 441v1M201.5 405v1M316.5 489v1M385.5 540v1M265.5 452v1M291.5 471v1M317.5 490v1M343.5 509v1M216.5 416v1M242.5 435v1M298.5 476v1M324.5 495v1M196.5 401v1M350.5 514v1M376.5 533v1M197.5 402v1M331.5 500v1M276.5 460v1M306.5 482v1M332.5 501v1M358.5 520v1M384.5 539v1M231.5 427v1M257.5 446v1M283.5 465v1M309.5 484v1M339.5 506v1M365.5 525v1M211.5 412v1M264.5 451v1M290.5 470v1" fill="none" stroke="#ff0000" stroke-width="1"/>
<path d="M522 438.5h2M558 457.5h2M551 453.5h2M688 525.5h2M724 544.5h2M680 521.5h2M716 540.5h2M672 517.5h2M619 489.5h2M731 548.5h2M545 450.5h2M648 504.5h2M501 427.5h2M537 446.5h2M530 442.5h2M703 533.5h2M726 545.5h2M762 564.5h2M505 429.5h2M718 541.5h2M754 560.5h2M598 478.5h2M710 537.5h2M553 454.5h2M686 524.5h2M575 466.5h2M568 462.5h2M741 553.5h2M697 530.5h2M733 549.5h2M636 498.5h2M748 557.5h2M665 513.5h2M591 474.5h2M547 451.5h2M583 470.5h2M720 542.5h2M539 447.5h2M676 519.5h2M486 419.5h2M735 550.5h2M764 565.5h2M644 502.5h2M534 444.5h2M570 463.5h2M526 440.5h2M629 494.5h2M585 471.5h2M621 490.5h2M758 562.5h2M714 539.5h2M750 558.5h2M494 423.5h2M743 554.5h2M623 491.5h2M682 522.5h2M572 464.5h2M608 483.5h2M674 518.5h2M564 460.5h2M600 479.5h2M480 416.5h2M556 456.5h2M729 547.5h2M752 559.5h2M532 443.5h2M669 515.5h2M661 511.5h2M587 472.5h2M653 507.5h2M543 449.5h2M579 468.5h2M602 480.5h2M638 499.5h2M518 436.5h2M482 417.5h2M511 432.5h2M760 563.5h2M640 500.5h2M496 424.5h2M699 531.5h2M625 492.5h2M691 527.5h2M581 469.5h2M617 488.5h2M610 484.5h2M490 421.5h2M739 552.5h2M549 452.5h2M678 520.5h2M604 481.5h2M560 458.5h2M596 477.5h2M589 473.5h2M655 508.5h2M528 441.5h2M520 437.5h2M657 509.5h2M693 528.5h2M642 501.5h2M634 497.5h2M515 434.5h2M627 493.5h2M507 430.5h2M756 561.5h2M499 426.5h2M566 461.5h2M492 422.5h2M484 418.5h2M695 529.5h2M613 486.5h2M650 505.5h2M606 482.5h2M524 439.5h2M509 431.5h2M631 495.5h2M667 514.5h2M659 510.5h2M503 428.5h2M562 459.5h2M488 420.5h2M646 503.5h2M712 538.5h2M705 534.5h2M541 448.5h2M577 467.5h2M707 535.5h2M684 523.5h2M615 487.5h2M745 555.5h2M737 551.5h2M663 512.5h2M722 543.5h2M594 476.5h2M513 433.5h2M701 532.5h2M633.5 496v1M536.5 445v1M517.5 435v1M479.5 415v1M766.5 566v1M498.5 425v1M593.5 475v1M747.5 556v1M709.5 536v1M612.5 485v1M728.5 546v1M652.5 506v1M555.5 455v1M690.5 526v1M671.5 516v1M574.5 465v1" fill="none" stroke="#ff0000" stroke-width="1"/>
<path d="M212.5 425v2M214.5 422v2M117.5 572v1M119.5 569v1M138.5 539v2M120.5 567v2M140.5 536v2M192.5 456v2M194.5 453v2M215.5 421v1M136.5 542v2M118.5 570v2M200.5 444v1M148.5 524v2M180.5 475v1M182.5 472v1M201.5 442v2M202.5 441v1M203.5 439v2M124.5 561v1M126.5 558v1M179.5 476v2M127.5 556v2M160.5 505v2M199.5 445v2M167.5 495v1M188.5 462v2M190.5 459v2M170.5 490v2M172.5 487v2M186.5 465v2M166.5 496v2M168.5 493v2M146.5 527v2M187.5 464v1M189.5 461v1M174.5 484v1M122.5 564v2M154.5 515v1M156.5 512v1M134.5 546v1M175.5 482v2M177.5 479v2M195.5 452v1M197.5 448v2M173.5 485v2M153.5 516v2M162.5 502v2M164.5 499v2M142.5 533v2M144.5 530v2M183.5 470v2M181.5 473v2M159.5 507v2M161.5 504v1M204.5 438v1M205.5 436v2M169.5 492v1M128.5 555v1M149.5 522v2M151.5 519v2M125.5 559v2M155.5 513v2M157.5 510v2M191.5 458v1M209.5 430v2M211.5 427v1M133.5 547v2M135.5 544v2M210.5 428v2M176.5 481v1M141.5 535v1M121.5 566v1M123.5 562v2M143.5 532v1M196.5 450v2M198.5 447v1M207.5 433v2M129.5 553v2M131.5 550v2M163.5 501v1M165.5 498v1M184.5 468v2M185.5 467v1M206.5 435v1M193.5 455v1M171.5 489v1M213.5 424v1M178.5 478v1M137.5 541v1M139.5 538v1M158.5 509v1M145.5 529v1M147.5 526v1M208.5 432v1M130.5 552v1M132.5 549v1M150.5 521v1M152.5 518v1" fill="none" stroke="#007800" stroke-width="1"/>
<path d="M399 531.5h2M448 487.5h2M438 496.5h2M390 539.5h2M380 548.5h2M477 461.5h2M467 470.5h2M419 513.5h2M497 443.5h2M409 522.5h2M487 452.5h2M429 504.5h2M458 478.5h2M370 557.5h2M450.5 486v1M407.5 524v1M389.5 540v1M494.5 446v1M387.5 542v1M393.5 537v1M479.5 460v1M480.5 459v1M436.5 498v1M418.5 514v1M435.5 499v1M422.5 511v1M379.5 549v1M465.5 472v1M466.5 471v1M471.5 467v1M421.5 512v1M428.5 505v1M377.5 551v1M378.5 550v1M383.5 546v1M496.5 444v1M469.5 469v1M451.5 485v1M408.5 523v1M414.5 518v1M500.5 441v1M457.5 479v1M406.5 525v1M412.5 520v1M369.5 558v1M499.5 442v1M437.5 497v1M443.5 492v1M392.5 538v1M486.5 453v1M492.5 448v1M441.5 494v1M442.5 493v1M398.5 532v1M404.5 527v1M490.5 450v1M472.5 466v1M440.5 495v1M402.5 529v1M384.5 545v1M470.5 468v1M427.5 506v1M433.5 501v1M382.5 547v1M501.5 440v1M463.5 474v1M431.5 503v1M464.5 473v1M413.5 519v1M375.5 553v1M376.5 552v1M456.5 480v1M462.5 475v1M411.5 521v1M373.5 555v1M374.5 554v1M493.5 447v1M461.5 476v1M455.5 481v1M423.5 510v1M405.5 526v1M491.5 449v1M367.5 560v1M453.5 483v1M454.5 482v1M403.5 528v1M484.5 455v1M452.5 484v1M485.5 454v1M434.5 500v1M396.5 534v1M397.5 533v1M482.5 457v1M483.5 456v1M432.5 502v1M394.5 536v1M395.5 535v1M481.5 458v1M476.5 462v1M425.5 508v1M426.5 507v1M388.5 541v1M474.5 464v1M475.5 463v1M424.5 509v1M386.5 543v1M368.5 559v1M473.5 465v1M460.5 477v1M417.5 515v1M366.5 561v1M385.5 544v1M372.5 556v1M415.5 517v1M416.5 516v1M502.5 439v1M489.5 451v1M446.5 489v1M447.5 488v1M401.5 530v1M495.5 445v1M444.5 491v1M445.5 490v1" fill="none" stroke="#007800" stroke-width="1"/>
<path d="M708 592.5h3M699 589.5h3M690 586.5h3M609 560.5h3M631 567.5h3M680 583.5h4M656 575.5h3M646 572.5h3M693 587.5h3M628 566.5h3M618 563.5h3M718 595.5h3M659 576.5h3M649 573.5h3M684 584.5h3M674 581.5h3M621 564.5h4M687 585.5h3M677 582.5h3M668 579.5h3M711 593.5h4M696 588.5h3M634 568.5h3M625 565.5h3M615 562.5h3M724 597.5h3M715 594.5h3M607 559.5h2M637 569.5h3M671 580.5h3M662 577.5h3M652 574.5h4M702 590.5h3M727 598.5h2M665 578.5h3M612 561.5h3M721 596.5h3M640 570.5h3M705 591.5h3M643 571.5h3" fill="none" stroke="#007800" stroke-width="1"/>
<rect x="117.5" y="520.5" width="30" height="26" fill="none" stroke="#000" stroke-width="1"/>
<rect x="193.5" y="404.5" width="30" height="54" fill="none" stroke="#000" stroke-width="1"/>
<rect x="366.5" y="508.5" width="23" height="53" fill="none" stroke="#000" stroke-width="1"/>
<rect x="464.5" y="411.5" width="30" height="47" fill="none" stroke="#000" stroke-width="1"/>
<rect x="713.5" y="551.5" width="22" height="52" fill="none" stroke="#000" stroke-width="1"/>
<rect x="818.5" y="521.5" width="30" height="62" fill="none" stroke="#000" stroke-width="1"/>
<rect x="967" y="0" width="57" height="357" fill="#c8c8c8"/>
<rect x="1023" y="0" width="1" height="357" fill="#fff"/>
<rect x="967" y="16" width="57" height="1" fill="#fff"/>
<rect x="968" y="17" width="55" height="1" fill="#b4b4b4"/>
<text x="998.6" y="13.3" fill="#000" stroke="#000" textLength="21.7" lengthAdjust="spacingAndGlyphs">EUR</text>
<line x1="969.5" y1="20" x2="969.5" y2="357" stroke="#000" stroke-width="1" stroke-dasharray="1 2"/>
<rect x="969" y="46" width="3" height="1" fill="#000"/>
<text x="974.8" y="51" fill="#000" stroke="#000" textLength="23.5" lengthAdjust="spacingAndGlyphs">4175</text>
<rect x="969" y="59" width="3" height="1" fill="#000"/>
<text x="974.8" y="64" fill="#000" stroke="#000" textLength="23.5" lengthAdjust="spacingAndGlyphs">4150</text>
<rect x="969" y="72" width="3" height="1" fill="#000"/>
<text x="974.8" y="77" fill="#000" stroke="#000" textLength="23.5" lengthAdjust="spacingAndGlyphs">4125</text>
<rect x="969" y="86" width="3" height="1" fill="#000"/>
<text x="974.8" y="91" fill="#000" stroke="#000" textLength="23.5" lengthAdjust="spacingAndGlyphs">4100</text>
<rect x="969" y="99" width="3" height="1" fill="#000"/>
<text x="974.8" y="104" fill="#000" stroke="#000" textLength="23.5" lengthAdjust="spacingAndGlyphs">4075</text>
<rect x="969" y="112" width="3" height="1" fill="#000"/>
<text x="974.8" y="117" fill="#000" stroke="#000" textLength="23.5" lengthAdjust="spacingAndGlyphs">4050</text>
<rect x="969" y="126" width="3" height="1" fill="#000"/>
<text x="974.8" y="131" fill="#000" stroke="#000" textLength="23.5" lengthAdjust="spacingAndGlyphs">4025</text>
<rect x="969" y="140" width="3" height="1" fill="#000"/>
<text x="974.8" y="145" fill="#000" stroke="#000" textLength="23.5" lengthAdjust="spacingAndGlyphs">4000</text>
<rect x="969" y="153" width="3" height="1" fill="#000"/>
<text x="974.8" y="158" fill="#000" stroke="#000" textLength="23.5" lengthAdjust="spacingAndGlyphs">3975</text>
<rect x="969" y="167" width="3" height="1" fill="#000"/>
<text x="974.8" y="172" fill="#000" stroke="#000" textLength="23.5" lengthAdjust="spacingAndGlyphs">3950</text>
<rect x="969" y="180" width="3" height="1" fill="#000"/>
<text x="974.8" y="185" fill="#000" stroke="#000" textLength="23.5" lengthAdjust="spacingAndGlyphs">3925</text>
<rect x="969" y="194" width="3" height="1" fill="#000"/>
<text x="974.8" y="199" fill="#000" stroke="#000" textLength="23.5" lengthAdjust="spacingAndGlyphs">3900</text>
<rect x="969" y="208" width="3" height="1" fill="#000"/>
<text x="974.8" y="213" fill="#000" stroke="#000" textLength="23.5" lengthAdjust="spacingAndGlyphs">3875</text>
<rect x="969" y="222" width="3" height="1" fill="#000"/>
<text x="974.8" y="227" fill="#000" stroke="#000" textLength="23.5" lengthAdjust="spacingAndGlyphs">3850</text>
<rect x="969" y="237" width="3" height="1" fill="#000"/>
<text x="974.8" y="242" fill="#000" stroke="#000" textLength="23.5" lengthAdjust="spacingAndGlyphs">3825</text>
<rect x="969" y="251" width="3" height="1" fill="#000"/>
<text x="974.8" y="256" fill="#000" stroke="#000" textLength="23.5" lengthAdjust="spacingAndGlyphs">3800</text>
<rect x="969" y="265" width="3" height="1" fill="#000"/>
<text x="974.8" y="270" fill="#000" stroke="#000" textLength="23.5" lengthAdjust="spacingAndGlyphs">3775</text>
<rect x="969" y="279" width="3" height="1" fill="#000"/>
<text x="974.8" y="284" fill="#000" stroke="#000" textLength="23.5" lengthAdjust="spacingAndGlyphs">3750</text>
<rect x="969" y="294" width="3" height="1" fill="#000"/>
<text x="974.8" y="299" fill="#000" stroke="#000" textLength="23.5" lengthAdjust="spacingAndGlyphs">3725</text>
<rect x="969" y="308" width="3" height="1" fill="#000"/>
<text x="974.8" y="313" fill="#000" stroke="#000" textLength="23.5" lengthAdjust="spacingAndGlyphs">3700</text>
<rect x="969" y="323" width="3" height="1" fill="#000"/>
<text x="974.8" y="328" fill="#000" stroke="#000" textLength="23.5" lengthAdjust="spacingAndGlyphs">3675</text>
<rect x="969" y="338" width="3" height="1" fill="#000"/>
<text x="974.8" y="343" fill="#000" stroke="#000" textLength="23.5" lengthAdjust="spacingAndGlyphs">3650</text>
<rect x="967" y="0" width="57" height="1" fill="#9a9a9a"/>
<rect x="967" y="357" width="57" height="1" fill="#c8c8c8"/>
<rect x="967" y="358" width="57" height="2" fill="#fff"/>
<rect x="967" y="360" width="57" height="1" fill="#c8c8c8"/>
<rect x="967" y="361" width="57" height="1" fill="#b0b0b0"/>
<rect x="967" y="362" width="57" height="1" fill="#fff"/>
<rect x="967" y="363" width="57" height="2" fill="#c8c8c8"/>
<rect x="967" y="365" width="57" height="1" fill="#9a9a9a"/>
<rect x="967" y="366" width="57" height="296" fill="#c8c8c8"/>
<rect x="1023" y="366" width="1" height="296" fill="#fff"/>
<rect x="967" y="382" width="57" height="1" fill="#fff"/>
<rect x="968" y="383" width="55" height="1" fill="#b4b4b4"/>
<text x="998.6" y="379.3" fill="#000" stroke="#000" textLength="21.7" lengthAdjust="spacingAndGlyphs">EUR</text>
<line x1="969.5" y1="386" x2="969.5" y2="662" stroke="#000" stroke-width="1" stroke-dasharray="1 2"/>
<rect x="969" y="408" width="3" height="1" fill="#000"/>
<text x="974.8" y="413" fill="#000" stroke="#000" textLength="11.5" lengthAdjust="spacingAndGlyphs">27</text>
<rect x="969" y="421" width="3" height="1" fill="#000"/>
<text x="974.8" y="426" fill="#000" stroke="#000" textLength="11.5" lengthAdjust="spacingAndGlyphs">26</text>
<rect x="969" y="436" width="3" height="1" fill="#000"/>
<text x="974.8" y="441" fill="#000" stroke="#000" textLength="11.5" lengthAdjust="spacingAndGlyphs">25</text>
<rect x="969" y="452" width="3" height="1" fill="#000"/>
<text x="974.8" y="457" fill="#000" stroke="#000" textLength="11.5" lengthAdjust="spacingAndGlyphs">24</text>
<rect x="969" y="468" width="3" height="1" fill="#000"/>
<text x="974.8" y="473" fill="#000" stroke="#000" textLength="11.5" lengthAdjust="spacingAndGlyphs">23</text>
<rect x="969" y="485" width="3" height="1" fill="#000"/>
<text x="974.8" y="490" fill="#000" stroke="#000" textLength="11.5" lengthAdjust="spacingAndGlyphs">22</text>
<rect x="969" y="503" width="3" height="1" fill="#000"/>
<text x="974.8" y="508" fill="#000" stroke="#000" textLength="11.5" lengthAdjust="spacingAndGlyphs">21</text>
<rect x="969" y="521" width="3" height="1" fill="#000"/>
<text x="974.8" y="526" fill="#000" stroke="#000" textLength="11.5" lengthAdjust="spacingAndGlyphs">20</text>
<rect x="969" y="541" width="3" height="1" fill="#000"/>
<text x="974.8" y="546" fill="#000" stroke="#000" textLength="11.5" lengthAdjust="spacingAndGlyphs">19</text>
<rect x="969" y="561" width="3" height="1" fill="#000"/>
<text x="974.8" y="566" fill="#000" stroke="#000" textLength="11.5" lengthAdjust="spacingAndGlyphs">18</text>
<rect x="969" y="583" width="3" height="1" fill="#000"/>
<text x="974.8" y="588" fill="#000" stroke="#000" textLength="11.5" lengthAdjust="spacingAndGlyphs">17</text>
<rect x="969" y="606" width="3" height="1" fill="#000"/>
<text x="974.8" y="611" fill="#000" stroke="#000" textLength="11.5" lengthAdjust="spacingAndGlyphs">16</text>
<rect x="969" y="631" width="3" height="1" fill="#000"/>
<text x="974.8" y="636" fill="#000" stroke="#000" textLength="11.5" lengthAdjust="spacingAndGlyphs">15</text>
<rect x="967" y="662" width="57" height="1" fill="#fff"/>
<rect x="0" y="661" width="967" height="3" fill="#c8c8c8"/>
<rect x="0" y="664" width="966" height="1" fill="#9a9a9a"/>
<rect x="0" y="665" width="966" height="30" fill="#c8c8c8"/>
<rect x="0" y="664" width="1" height="31" fill="#9a9a9a"/>
<rect x="0" y="695" width="967" height="1" fill="#fff"/>
<rect x="966" y="664" width="1" height="32" fill="#fff"/>
<rect x="79" y="665" width="1" height="5" fill="#000"/>
<rect x="253" y="665" width="1" height="5" fill="#000"/>
<rect x="404" y="665" width="1" height="5" fill="#000"/>
<rect x="562" y="665" width="1" height="5" fill="#000"/>
<rect x="728" y="665" width="1" height="5" fill="#000"/>
<rect x="894" y="665" width="1" height="5" fill="#000"/>
</g>
<rect x="966.55" y="0" width="1.05" height="357" fill="#9a9a9a"/>
<rect x="966.55" y="365" width="1.05" height="296.5" fill="#9a9a9a"/>
<g shape-rendering="crispEdges">
<rect x="9" y="4" width="1" height="10" fill="#000"/>
<rect x="6" y="6" width="7" height="6" fill="#000"/>
<rect x="7" y="7" width="5" height="4" fill="#fff"/>
</g>
<g shape-rendering="crispEdges">
<rect x="9" y="369" width="1" height="10" fill="#000"/>
<rect x="6" y="371" width="7" height="6" fill="#000"/>
<rect x="7" y="372" width="5" height="4" fill="#fff"/>
</g>
<text x="18.75" y="14" fill="#000" stroke="#000" textLength="28.65" lengthAdjust="spacingAndGlyphs">31500</text>
<text x="54.5" y="14" fill="#000" stroke="#000" textLength="29.25" lengthAdjust="spacingAndGlyphs">DAXX,</text>
<text x="89.5" y="14" fill="#000" stroke="#000" textLength="53.0" lengthAdjust="spacingAndGlyphs">Tageschart</text>
<text x="146.3" y="14" fill="#000" stroke="#000" textLength="3.0" lengthAdjust="spacingAndGlyphs">-</text>
<text x="152.5" y="14" fill="#000" stroke="#000" textLength="53.5" lengthAdjust="spacingAndGlyphs">16.02.2004</text>
<text x="209.8" y="14" fill="#000" stroke="#000" textLength="3.0" lengthAdjust="spacingAndGlyphs">-</text>
<text x="216" y="14" fill="#000" stroke="#000" textLength="53.5" lengthAdjust="spacingAndGlyphs">04.08.2004</text>
<text x="273.2" y="14" fill="#000" stroke="#000" textLength="3.0" lengthAdjust="spacingAndGlyphs">-</text>
<text x="279" y="14" fill="#000" stroke="#000" textLength="37.75" lengthAdjust="spacingAndGlyphs">3823.74</text>
<text x="4.2" y="28" fill="#000" stroke="#000" textLength="11" lengthAdjust="spacingAndGlyphs">XX</text>
<text x="19.1" y="28" fill="#000" stroke="#000" textLength="19.7" lengthAdjust="spacingAndGlyphs">BBD</text>
<text x="43.4" y="28" fill="#000" stroke="#000" textLength="30.35" lengthAdjust="spacingAndGlyphs">[Close,</text>
<text x="78.75" y="28" fill="#000" stroke="#000" textLength="12.25" lengthAdjust="spacingAndGlyphs">20,</text>
<text x="96" y="28" fill="#000" stroke="#000" textLength="7.75" lengthAdjust="spacingAndGlyphs">2]</text>
<text x="108.75" y="28" fill="#000" stroke="#000" textLength="33.75" lengthAdjust="spacingAndGlyphs">Moving</text>
<text x="146" y="28" fill="#000" stroke="#000" textLength="106.5" lengthAdjust="spacingAndGlyphs">Average:3854.854004</text>
<text x="256.5" y="28" fill="#000" stroke="#000" textLength="29.0" lengthAdjust="spacingAndGlyphs">Upper</text>
<text x="288.5" y="28" fill="#000" stroke="#000" textLength="90.0" lengthAdjust="spacingAndGlyphs">Band:3949.442396</text>
<text x="381.5" y="28" fill="#000" stroke="#000" textLength="30.0" lengthAdjust="spacingAndGlyphs">Lower</text>
<text x="414" y="28" fill="#000" stroke="#000" textLength="90" lengthAdjust="spacingAndGlyphs">Band:3760.265612</text>
<text x="4.2" y="42" fill="#ff0000" stroke="#ff0000" textLength="11" lengthAdjust="spacingAndGlyphs">XX</text>
<text x="19.5" y="42" fill="#ff0000" stroke="#ff0000" textLength="32.5" lengthAdjust="spacingAndGlyphs">EMA(4)</text>
<text x="56" y="42" fill="#ff0000" stroke="#ff0000" textLength="29" lengthAdjust="spacingAndGlyphs">[Close,</text>
<text x="88.75" y="42" fill="#ff0000" stroke="#ff0000" textLength="77.25" lengthAdjust="spacingAndGlyphs">5]:3850.528858</text>
<text x="17.5" y="42.5" fill="#ff0000" stroke="#ff0000" textLength="50" lengthAdjust="spacingAndGlyphs">4175.0916</text>
<text x="17" y="137" fill="#0000ff" stroke="#0000ff" textLength="23" lengthAdjust="spacingAndGlyphs">4000</text>
<text x="16" y="308" fill="#006400" stroke="#006400" textLength="44.5" lengthAdjust="spacingAndGlyphs">3692.459</text>
<text x="18.9" y="379" fill="#000" stroke="#000" textLength="34.85" lengthAdjust="spacingAndGlyphs">846740</text>
<text x="60.5" y="379" fill="#000" stroke="#000" textLength="29.5" lengthAdjust="spacingAndGlyphs">VDAX,</text>
<text x="96" y="379" fill="#000" stroke="#000" textLength="52.75" lengthAdjust="spacingAndGlyphs">Tageschart</text>
<text x="152.8" y="379" fill="#000" stroke="#000" textLength="3.0" lengthAdjust="spacingAndGlyphs">-</text>
<text x="158.75" y="379" fill="#000" stroke="#000" textLength="53.25" lengthAdjust="spacingAndGlyphs">16.02.2004</text>
<text x="216" y="379" fill="#000" stroke="#000" textLength="3" lengthAdjust="spacingAndGlyphs">-</text>
<text x="222.5" y="379" fill="#000" stroke="#000" textLength="53.5" lengthAdjust="spacingAndGlyphs">04.08.2004</text>
<text x="279.4" y="379" fill="#000" stroke="#000" textLength="3.0" lengthAdjust="spacingAndGlyphs">-</text>
<text x="285.5" y="379" fill="#000" stroke="#000" textLength="19.25" lengthAdjust="spacingAndGlyphs">18.9</text>
<text x="4.2" y="393" fill="#000" stroke="#000" textLength="11" lengthAdjust="spacingAndGlyphs">XX</text>
<text x="19.5" y="393" fill="#000" stroke="#000" textLength="31.5" lengthAdjust="spacingAndGlyphs">BBD(3)</text>
<text x="55.5" y="393" fill="#000" stroke="#000" textLength="29.5" lengthAdjust="spacingAndGlyphs">[Close,</text>
<text x="90.5" y="393" fill="#000" stroke="#000" textLength="12.0" lengthAdjust="spacingAndGlyphs">20,</text>
<text x="108" y="393" fill="#000" stroke="#000" textLength="7.5" lengthAdjust="spacingAndGlyphs">2]</text>
<text x="120.5" y="393" fill="#000" stroke="#000" textLength="34.5" lengthAdjust="spacingAndGlyphs">Moving</text>
<text x="158" y="393" fill="#000" stroke="#000" textLength="75.75" lengthAdjust="spacingAndGlyphs">Average:18.956</text>
<text x="237.5" y="393" fill="#000" stroke="#000" textLength="29.0" lengthAdjust="spacingAndGlyphs">Upper</text>
<text x="269.75" y="393" fill="#000" stroke="#000" textLength="77.5" lengthAdjust="spacingAndGlyphs">Band:20.127929</text>
<text x="351.5" y="393" fill="#000" stroke="#000" textLength="28.75" lengthAdjust="spacingAndGlyphs">Lower</text>
<text x="383.5" y="393" fill="#000" stroke="#000" textLength="77.5" lengthAdjust="spacingAndGlyphs">Band:17.784071</text>
<text x="17" y="404" fill="#ff0000" stroke="#ff0000" textLength="11" lengthAdjust="spacingAndGlyphs">27</text>
<text x="17" y="561" fill="#006400" stroke="#006400" textLength="26" lengthAdjust="spacingAndGlyphs">17.88</text>
<text x="17.5" y="590.5" fill="#006400" stroke="#006400" textLength="20" lengthAdjust="spacingAndGlyphs">16.5</text>
<text x="31.5" y="683" fill="#000" stroke="#000" textLength="18.0" lengthAdjust="spacingAndGlyphs">Feb</text>
<text x="156.75" y="683" fill="#000" stroke="#000" textLength="16.25" lengthAdjust="spacingAndGlyphs">Mrz</text>
<text x="318" y="683" fill="#000" stroke="#000" textLength="16.8" lengthAdjust="spacingAndGlyphs">Apr</text>
<text x="473.5" y="683" fill="#000" stroke="#000" textLength="17.2" lengthAdjust="spacingAndGlyphs">Mai</text>
<text x="634.5" y="683" fill="#000" stroke="#000" textLength="17.5" lengthAdjust="spacingAndGlyphs">Jun</text>
<text x="803" y="683" fill="#000" stroke="#000" textLength="13" lengthAdjust="spacingAndGlyphs">Jul</text>
<text x="918.75" y="683" fill="#000" stroke="#000" textLength="19.75" lengthAdjust="spacingAndGlyphs">Aug</text>
<text x="335.9" y="705.2" fill="#969696" stroke="#969696" textLength="54.6" lengthAdjust="spacingAndGlyphs" font-size="11">TradeSignal®</text>
<text x="393.5" y="705.2" fill="#969696" stroke="#969696" textLength="15.0" lengthAdjust="spacingAndGlyphs" font-size="11">and</text>
<text x="411.6" y="705.2" fill="#969696" stroke="#969696" textLength="107.7" lengthAdjust="spacingAndGlyphs" font-size="11">www.technical-investor.de</text>
<text x="523" y="705.2" fill="#969696" stroke="#969696" textLength="8" lengthAdjust="spacingAndGlyphs" font-size="11">©</text>
<text x="534" y="705.2" fill="#969696" stroke="#969696" textLength="8.6" lengthAdjust="spacingAndGlyphs" font-size="11">by</text>
<text x="548.5" y="705.2" fill="#969696" stroke="#969696" textLength="50.8" lengthAdjust="spacingAndGlyphs" font-size="11">SystemSoft,</text>
<text x="604.4" y="705.2" fill="#969696" stroke="#969696" textLength="82.0" lengthAdjust="spacingAndGlyphs" font-size="11">www.systemsoft.de</text>
</svg>
</body></html>
